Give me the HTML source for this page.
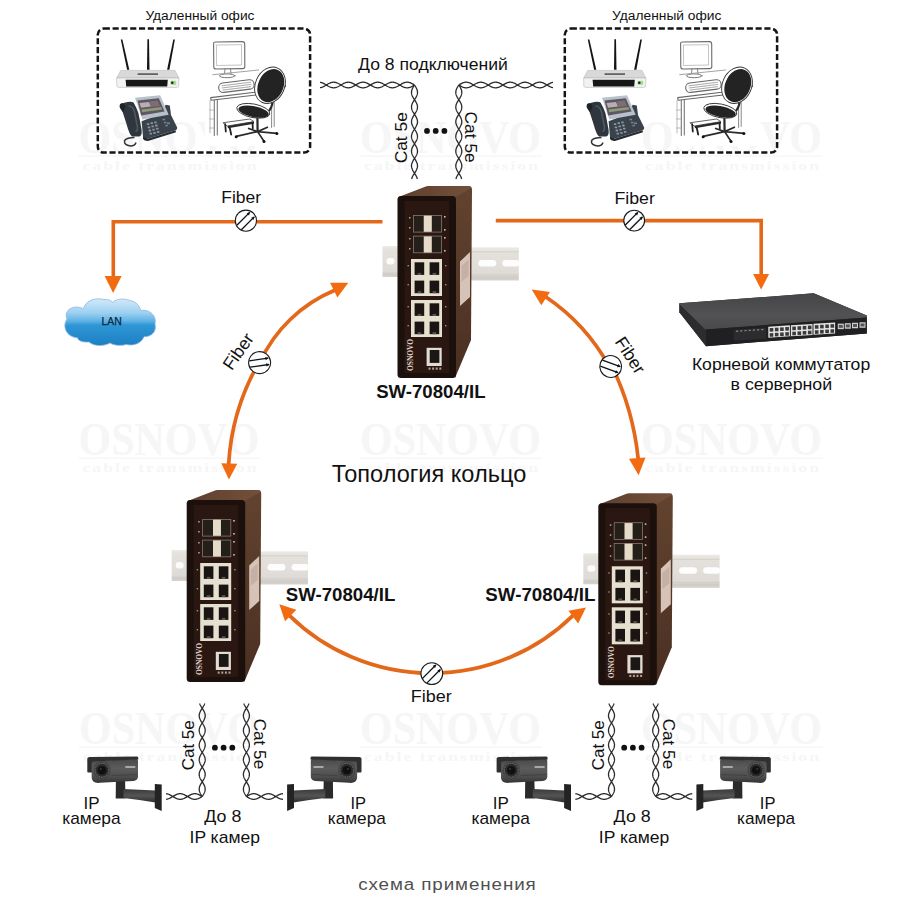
<!DOCTYPE html><html><head><meta charset="utf-8"><style>html,body{margin:0;padding:0;background:#fff;width:900px;height:900px;overflow:hidden}svg{display:block}</style></head><body>
<svg width="900" height="900" viewBox="0 0 900 900" font-family="Liberation Sans, sans-serif">
<rect width="900" height="900" fill="#fff"/>
<g fill="#f6f6f6"><text x="78.5" y="152.5" font-family="Liberation Serif" font-weight="bold" font-size="47" textLength="181" lengthAdjust="spacingAndGlyphs">OSNOVO</text>
<rect x="78.5" y="155.5" width="182" height="1.3" fill="#f6f6f6"/>
<text x="82.5" y="170.0" font-family="Liberation Serif" font-weight="bold" font-size="13.5" textLength="176" lengthAdjust="spacingAndGlyphs" letter-spacing="1.5">cable transmission</text></g>
<g fill="#f6f6f6"><text x="360.0" y="152.5" font-family="Liberation Serif" font-weight="bold" font-size="47" textLength="181" lengthAdjust="spacingAndGlyphs">OSNOVO</text>
<rect x="360.0" y="155.5" width="182" height="1.3" fill="#f6f6f6"/>
<text x="364.0" y="170.0" font-family="Liberation Serif" font-weight="bold" font-size="13.5" textLength="176" lengthAdjust="spacingAndGlyphs" letter-spacing="1.5">cable transmission</text></g>
<g fill="#f6f6f6"><text x="641.0" y="152.5" font-family="Liberation Serif" font-weight="bold" font-size="47" textLength="181" lengthAdjust="spacingAndGlyphs">OSNOVO</text>
<rect x="641.0" y="155.5" width="182" height="1.3" fill="#f6f6f6"/>
<text x="645.0" y="170.0" font-family="Liberation Serif" font-weight="bold" font-size="13.5" textLength="176" lengthAdjust="spacingAndGlyphs" letter-spacing="1.5">cable transmission</text></g>
<g fill="#f6f6f6"><text x="78.5" y="454.5" font-family="Liberation Serif" font-weight="bold" font-size="47" textLength="181" lengthAdjust="spacingAndGlyphs">OSNOVO</text>
<rect x="78.5" y="457.5" width="182" height="1.3" fill="#f6f6f6"/>
<text x="82.5" y="472.0" font-family="Liberation Serif" font-weight="bold" font-size="13.5" textLength="176" lengthAdjust="spacingAndGlyphs" letter-spacing="1.5">cable transmission</text></g>
<g fill="#f6f6f6"><text x="360.0" y="454.5" font-family="Liberation Serif" font-weight="bold" font-size="47" textLength="181" lengthAdjust="spacingAndGlyphs">OSNOVO</text>
<rect x="360.0" y="457.5" width="182" height="1.3" fill="#f6f6f6"/>
<text x="364.0" y="472.0" font-family="Liberation Serif" font-weight="bold" font-size="13.5" textLength="176" lengthAdjust="spacingAndGlyphs" letter-spacing="1.5">cable transmission</text></g>
<g fill="#f6f6f6"><text x="641.0" y="454.5" font-family="Liberation Serif" font-weight="bold" font-size="47" textLength="181" lengthAdjust="spacingAndGlyphs">OSNOVO</text>
<rect x="641.0" y="457.5" width="182" height="1.3" fill="#f6f6f6"/>
<text x="645.0" y="472.0" font-family="Liberation Serif" font-weight="bold" font-size="13.5" textLength="176" lengthAdjust="spacingAndGlyphs" letter-spacing="1.5">cable transmission</text></g>
<g fill="#f6f6f6"><text x="79.0" y="743.5" font-family="Liberation Serif" font-weight="bold" font-size="47" textLength="181" lengthAdjust="spacingAndGlyphs">OSNOVO</text>
<rect x="79.0" y="746.5" width="182" height="1.3" fill="#f6f6f6"/>
<text x="83.0" y="761.0" font-family="Liberation Serif" font-weight="bold" font-size="13.5" textLength="176" lengthAdjust="spacingAndGlyphs" letter-spacing="1.5">cable transmission</text></g>
<g fill="#f6f6f6"><text x="360.0" y="743.5" font-family="Liberation Serif" font-weight="bold" font-size="47" textLength="181" lengthAdjust="spacingAndGlyphs">OSNOVO</text>
<rect x="360.0" y="746.5" width="182" height="1.3" fill="#f6f6f6"/>
<text x="364.0" y="761.0" font-family="Liberation Serif" font-weight="bold" font-size="13.5" textLength="176" lengthAdjust="spacingAndGlyphs" letter-spacing="1.5">cable transmission</text></g>
<g fill="#f6f6f6"><text x="641.0" y="743.5" font-family="Liberation Serif" font-weight="bold" font-size="47" textLength="181" lengthAdjust="spacingAndGlyphs">OSNOVO</text>
<rect x="641.0" y="746.5" width="182" height="1.3" fill="#f6f6f6"/>
<text x="645.0" y="761.0" font-family="Liberation Serif" font-weight="bold" font-size="13.5" textLength="176" lengthAdjust="spacingAndGlyphs" letter-spacing="1.5">cable transmission</text></g>
<defs>
<linearGradient id="rail" x1="0" y1="0" x2="0" y2="1"><stop offset="0" stop-color="#ebe9e5"/><stop offset="0.15" stop-color="#e4e1dc"/><stop offset="0.5" stop-color="#e2dfda"/><stop offset="0.82" stop-color="#dedbd6"/><stop offset="0.9" stop-color="#cfccc7"/><stop offset="1" stop-color="#d5d3cf"/></linearGradient>
<linearGradient id="topf" x1="0" y1="0" x2="1" y2="0"><stop offset="0" stop-color="#5e3f2e"/><stop offset="1" stop-color="#72503b"/></linearGradient>
<linearGradient id="sidef" x1="0" y1="0" x2="0" y2="1"><stop offset="0" stop-color="#62432f"/><stop offset="1" stop-color="#4a2f22"/></linearGradient>
<radialGradient id="cloud" cx="0.45" cy="0.3" r="0.75"><stop offset="0" stop-color="#9fd8f5"/><stop offset="0.5" stop-color="#3fa3dc"/><stop offset="1" stop-color="#1b6fae"/></radialGradient>
<linearGradient id="camg" x1="0" y1="0" x2="0" y2="1"><stop offset="0" stop-color="#4a4a4a"/><stop offset="0.4" stop-color="#5c5c5c"/><stop offset="0.75" stop-color="#4d4d4d"/><stop offset="1" stop-color="#333"/></linearGradient>
<linearGradient id="rtop" x1="0" y1="0" x2="0" y2="1"><stop offset="0" stop-color="#454547"/><stop offset="0.6" stop-color="#525254"/><stop offset="1" stop-color="#49494b"/></linearGradient>
<g id="sw"><rect x="-15" y="50" width="20" height="31" fill="url(#rail)"/><rect x="-11" y="62" width="8" height="6.5" rx="3" fill="#fbfbfb"/><rect x="66" y="51.4" width="55.3" height="33.1" fill="url(#rail)"/><rect x="66" y="55.5" width="55.3" height="0.8" fill="#cfcac3"/><rect x="66" y="78.5" width="55.3" height="0.8" fill="#cfcac3"/><rect x="80.8" y="63.9" width="17.9" height="6.6" rx="3.3" fill="#fdfdfd"/><rect x="104.9" y="63.9" width="17" height="6.6" rx="3.3" fill="#fdfdfd"/><path d="M57,1 L71.5,-9 Q74.5,-10 74.5,-6 L73.5,144 L57.5,182 Z" fill="url(#sidef)"/><path d="M1,1 L27,-9 Q29,-10 31,-10 L71.5,-10 Q74.5,-10 73.5,-8 L58,1 Z" fill="url(#topf)"/><path d="M62.5,65.4 L72.5,56 L72.5,101 L62.5,110 Z" fill="#d6c2b6"/><path d="M64,70 L71,63.5 L71,80 L64,86 Z" fill="#c4b0a4"/><rect x="0" y="0" width="58.5" height="182" rx="3.5" fill="#1c100c"/><rect x="7" y="5" width="44.5" height="172" rx="1" fill="#2b1711"/><rect x="15.5" y="19.0" width="29" height="17.5" fill="#857970"/><rect x="16.3" y="19.8" width="10" height="15.9" fill="#242019"/><rect x="34.2" y="19.8" width="9.5" height="15.9" fill="#242019"/><rect x="26.3" y="19.8" width="7.9" height="15.9" fill="#e6dac8"/><rect x="15.5" y="39.7" width="29" height="17.5" fill="#857970"/><rect x="16.3" y="40.5" width="10" height="15.9" fill="#242019"/><rect x="34.2" y="40.5" width="9.5" height="15.9" fill="#242019"/><rect x="26.3" y="40.5" width="7.9" height="15.9" fill="#e6dac8"/><rect x="13.5" y="63" width="31" height="37" fill="#e6e0d0"/><rect x="17.1" y="66.3" width="9.6" height="12.6" fill="#1a1513"/><rect x="20.1" y="76.9" width="3.6" height="2" fill="#5a524c"/><rect x="32.1" y="66.3" width="9.6" height="12.6" fill="#1a1513"/><rect x="35.1" y="76.9" width="3.6" height="2" fill="#5a524c"/><rect x="17.1" y="84.6" width="9.6" height="12.6" fill="#1a1513"/><rect x="20.1" y="95.2" width="3.6" height="2" fill="#5a524c"/><rect x="32.1" y="84.6" width="9.6" height="12.6" fill="#1a1513"/><rect x="35.1" y="95.2" width="3.6" height="2" fill="#5a524c"/><rect x="13.5" y="104" width="31" height="37" fill="#e6e0d0"/><rect x="17.1" y="107.3" width="9.6" height="12.6" fill="#1a1513"/><rect x="20.1" y="117.9" width="3.6" height="2" fill="#5a524c"/><rect x="32.1" y="107.3" width="9.6" height="12.6" fill="#1a1513"/><rect x="35.1" y="117.9" width="3.6" height="2" fill="#5a524c"/><rect x="17.1" y="125.6" width="9.6" height="12.6" fill="#1a1513"/><rect x="20.1" y="136.2" width="3.6" height="2" fill="#5a524c"/><rect x="32.1" y="125.6" width="9.6" height="12.6" fill="#1a1513"/><rect x="35.1" y="136.2" width="3.6" height="2" fill="#5a524c"/><rect x="29.1" y="151.8" width="15.1" height="18.2" fill="#e2ddd4"/><rect x="32.2" y="154" width="9.7" height="12.9" fill="#1b1715"/><rect x="31.0" y="171.5" width="2" height="2.2" fill="#a9a19a"/><rect x="34.6" y="171.5" width="2" height="2.2" fill="#a9a19a"/><rect x="38.2" y="171.5" width="2" height="2.2" fill="#a9a19a"/><rect x="41.8" y="171.5" width="2" height="2.2" fill="#a9a19a"/><text transform="translate(15.3,175) rotate(-90)" font-family="Liberation Serif" font-weight="bold" font-size="8.2" fill="#e0d8d0" textLength="32" lengthAdjust="spacingAndGlyphs">OSNOVO</text><rect x="11.5" y="21" width="1.5" height="1.5" fill="#b0a8a0"/><rect x="11.5" y="31" width="1.5" height="1.5" fill="#b0a8a0"/><rect x="11.5" y="42" width="1.5" height="1.5" fill="#b0a8a0"/><rect x="11.5" y="52" width="1.5" height="1.5" fill="#b0a8a0"/><rect x="46.5" y="20" width="1.6" height="1.6" fill="#c8c0b8"/><rect x="46.5" y="33" width="1.6" height="1.6" fill="#c8c0b8"/><rect x="46.5" y="41" width="1.6" height="1.6" fill="#c8c0b8"/><rect x="46.5" y="54" width="1.6" height="1.6" fill="#c8c0b8"/><rect x="10" y="69" width="1.4" height="1.4" fill="#9a928a"/><rect x="47.5" y="69" width="1.4" height="1.4" fill="#9a928a"/><rect x="10" y="88" width="1.4" height="1.4" fill="#9a928a"/><rect x="47.5" y="88" width="1.4" height="1.4" fill="#9a928a"/><rect x="10" y="110" width="1.4" height="1.4" fill="#9a928a"/><rect x="47.5" y="110" width="1.4" height="1.4" fill="#9a928a"/><rect x="10" y="129" width="1.4" height="1.4" fill="#9a928a"/><rect x="47.5" y="129" width="1.4" height="1.4" fill="#9a928a"/></g>
<linearGradient id="camarm" x1="0" y1="0" x2="0" y2="1"><stop offset="0" stop-color="#3a3a3a"/><stop offset="0.5" stop-color="#545454"/><stop offset="1" stop-color="#2c2c2c"/></linearGradient>
<g id="cam"><path d="M28.4,24 L37.6,24 L38,41.5 L28.2,41.5 Z" fill="#2a2a2a"/><path d="M36,32.1 L68,33.5 L68,45.4 Q52,43 36,41.1 Z" fill="url(#camarm)"/><path d="M67.3,27 L74.2,27.5 L74.2,54.1 L67.3,51 Z" fill="#232323"/><path d="M4,4 L49,2 Q50.5,2 50.5,4 L50.5,20 Q50,23.5 46,24 L12,25.8 Q5,26.5 4.2,21 Z" fill="url(#camg)"/><path d="M-0.2,1.6 Q0,0 2,0 L49.6,-0.6 Q50.8,-0.5 50.8,1 L50.8,2.6 L5,4.4 Q4.4,4.6 4.4,6 L4.4,15.5 L0.6,15.5 Q-0.2,15.5 -0.2,14.5 Z" fill="#2f2f2f"/><circle cx="14.5" cy="13.2" r="8.6" fill="#434343"/><circle cx="14.5" cy="13.2" r="6.8" fill="#2c2c2c" stroke="#7a7a7a" stroke-width="1" stroke-dasharray="0.9 0.9"/><circle cx="14.5" cy="13.2" r="4.3" fill="#101010"/><circle cx="13.3" cy="12" r="1.1" fill="#383838"/><rect x="37.8" y="9" width="10" height="2" fill="#a8a8a8"/><path d="M24,18.5 L49.5,17.5" stroke="#3e3e3e" stroke-width="0.8"/></g>
</defs>
<g transform="translate(0.0,0)"><rect x="97.8" y="28.6" width="212.3" height="124" rx="6" fill="none" stroke="#151515" stroke-width="2.5" stroke-dasharray="6.1 2.7"/><path d="M120.8,39.5 L122.4,39.5 L129.3,69.8 L127.1,69.8 Z" fill="#141414"/><path d="M147.4,39.2 L149.0,39.2 L149.5,69.8 L147.0,69.8 Z" fill="#141414"/><path d="M173.3,39.5 L174.9,39.5 L169.4,69.8 L167.1,69.8 Z" fill="#141414"/><path d="M120.7,70.4 L174.9,70.4 L178.9,78 L116.7,78 Z" fill="#d9d9d9" stroke="#b0b0b0" stroke-width="0.5"/><path d="M116.7,78 L178.9,78 L178.6,86.6 Q178,87.4 176,87.4 L119,87.4 Q117,87.4 116.8,86 Z" fill="#f2f2f2" stroke="#b8b8b8" stroke-width="0.6"/><rect x="137.6" y="73.3" width="20.4" height="1.6" fill="#555"/><path d="M125.6,79.8 L167.8,79.8 L167.2,86.4 L126.2,86.4 Z" fill="#161616"/><rect x="170.4" y="80.7" width="5.8" height="4.3" rx="1" fill="#a6e08a"/><circle cx="172.3" cy="82.8" r="1.3" fill="#222"/><path d="M134.5,137.5 Q127,137.5 124.6,140.5 Q123.5,145 130.5,146 Q135,146 136,142.5" fill="none" stroke="#30363c" stroke-width="1.5"/><path d="M141.6,121.2 L163,113 L165.5,104.8 L169.8,105.5 L171,115 L177.2,127.6 Q177.6,129.6 175.5,130.3 L147.5,138.8 Q144.5,139.6 143,136.8 Z" fill="#3a434c"/><path d="M143,136.8 L147.5,138.8 L175.5,130.3 L176,132.3 L148,141 Q144.5,141.2 143,139 Z" fill="#262b30"/><rect x="146.8" y="123.2" width="2.5" height="1.8" rx="0.5" fill="#8a96a2"/><rect x="150.5" y="122.3" width="2.5" height="1.8" rx="0.5" fill="#8a96a2"/><rect x="154.2" y="121.4" width="2.5" height="1.8" rx="0.5" fill="#8a96a2"/><rect x="147.7" y="126.4" width="2.5" height="1.8" rx="0.5" fill="#8a96a2"/><rect x="151.4" y="125.5" width="2.5" height="1.8" rx="0.5" fill="#8a96a2"/><rect x="155.1" y="124.6" width="2.5" height="1.8" rx="0.5" fill="#8a96a2"/><rect x="148.6" y="129.6" width="2.5" height="1.8" rx="0.5" fill="#8a96a2"/><rect x="152.3" y="128.7" width="2.5" height="1.8" rx="0.5" fill="#8a96a2"/><rect x="156.0" y="127.8" width="2.5" height="1.8" rx="0.5" fill="#8a96a2"/><rect x="149.5" y="132.8" width="2.5" height="1.8" rx="0.5" fill="#8a96a2"/><rect x="153.2" y="131.9" width="2.5" height="1.8" rx="0.5" fill="#8a96a2"/><rect x="156.9" y="131.0" width="2.5" height="1.8" rx="0.5" fill="#8a96a2"/><rect x="162.5" y="118.8" width="2.6" height="1.5" fill="#77838f"/><rect x="163.9" y="121.8" width="2.6" height="1.5" fill="#77838f"/><rect x="165.3" y="124.8" width="2.6" height="1.5" fill="#77838f"/><rect x="167" y="122.5" width="3" height="1.6" fill="#77838f"/><path d="M135,97.8 L160.1,95.3 L168.7,114.7 L142.4,119.6 Z" fill="#b6c1cb"/><path d="M137.6,100.4 L158.8,98.3 L164.6,111.6 L141.2,115.4 Z" fill="#5e5660"/><path d="M139.5,103 L149,102 L151,106.5 L141,107.8 Z" fill="#b9aeb4"/><path d="M149.5,101.5 L157.6,100.6 L160,106 L151.5,107 Z" fill="#7f6d74"/><path d="M141.4,109.6 L161.2,107 L162.2,109.4 L142.2,112.2 Z" fill="#8d9a78"/><path d="M121.2,103.6 Q119.2,104.3 119.8,107.5 L122.8,112.5 L126.5,124 Q129.5,135 132,136.5 L139,136.6 Q142.2,135.8 141.6,130 L139.6,119 Q138.6,112 136.2,107.4 L133.5,102.6 Q131.8,101.4 127.5,102 Z" fill="#2f363d"/><path d="M128.5,106 Q133,106 134.5,112 L137.5,127 Q137.6,131 135.5,131.5" fill="none" stroke="#4d5862" stroke-width="1.6"/><path d="M121.2,103.6 Q119.4,104.3 120,107.8 L123.5,112 L125.5,106.5 Q125,103.4 121.2,103.6 Z" fill="#1e2327"/></g>
<g transform="translate(467.0,0)"><rect x="97.8" y="28.6" width="212.3" height="124" rx="6" fill="none" stroke="#151515" stroke-width="2.5" stroke-dasharray="6.1 2.7"/><path d="M120.8,39.5 L122.4,39.5 L129.3,69.8 L127.1,69.8 Z" fill="#141414"/><path d="M147.4,39.2 L149.0,39.2 L149.5,69.8 L147.0,69.8 Z" fill="#141414"/><path d="M173.3,39.5 L174.9,39.5 L169.4,69.8 L167.1,69.8 Z" fill="#141414"/><path d="M120.7,70.4 L174.9,70.4 L178.9,78 L116.7,78 Z" fill="#d9d9d9" stroke="#b0b0b0" stroke-width="0.5"/><path d="M116.7,78 L178.9,78 L178.6,86.6 Q178,87.4 176,87.4 L119,87.4 Q117,87.4 116.8,86 Z" fill="#f2f2f2" stroke="#b8b8b8" stroke-width="0.6"/><rect x="137.6" y="73.3" width="20.4" height="1.6" fill="#555"/><path d="M125.6,79.8 L167.8,79.8 L167.2,86.4 L126.2,86.4 Z" fill="#161616"/><rect x="170.4" y="80.7" width="5.8" height="4.3" rx="1" fill="#a6e08a"/><circle cx="172.3" cy="82.8" r="1.3" fill="#222"/><path d="M134.5,137.5 Q127,137.5 124.6,140.5 Q123.5,145 130.5,146 Q135,146 136,142.5" fill="none" stroke="#30363c" stroke-width="1.5"/><path d="M141.6,121.2 L163,113 L165.5,104.8 L169.8,105.5 L171,115 L177.2,127.6 Q177.6,129.6 175.5,130.3 L147.5,138.8 Q144.5,139.6 143,136.8 Z" fill="#3a434c"/><path d="M143,136.8 L147.5,138.8 L175.5,130.3 L176,132.3 L148,141 Q144.5,141.2 143,139 Z" fill="#262b30"/><rect x="146.8" y="123.2" width="2.5" height="1.8" rx="0.5" fill="#8a96a2"/><rect x="150.5" y="122.3" width="2.5" height="1.8" rx="0.5" fill="#8a96a2"/><rect x="154.2" y="121.4" width="2.5" height="1.8" rx="0.5" fill="#8a96a2"/><rect x="147.7" y="126.4" width="2.5" height="1.8" rx="0.5" fill="#8a96a2"/><rect x="151.4" y="125.5" width="2.5" height="1.8" rx="0.5" fill="#8a96a2"/><rect x="155.1" y="124.6" width="2.5" height="1.8" rx="0.5" fill="#8a96a2"/><rect x="148.6" y="129.6" width="2.5" height="1.8" rx="0.5" fill="#8a96a2"/><rect x="152.3" y="128.7" width="2.5" height="1.8" rx="0.5" fill="#8a96a2"/><rect x="156.0" y="127.8" width="2.5" height="1.8" rx="0.5" fill="#8a96a2"/><rect x="149.5" y="132.8" width="2.5" height="1.8" rx="0.5" fill="#8a96a2"/><rect x="153.2" y="131.9" width="2.5" height="1.8" rx="0.5" fill="#8a96a2"/><rect x="156.9" y="131.0" width="2.5" height="1.8" rx="0.5" fill="#8a96a2"/><rect x="162.5" y="118.8" width="2.6" height="1.5" fill="#77838f"/><rect x="163.9" y="121.8" width="2.6" height="1.5" fill="#77838f"/><rect x="165.3" y="124.8" width="2.6" height="1.5" fill="#77838f"/><rect x="167" y="122.5" width="3" height="1.6" fill="#77838f"/><path d="M135,97.8 L160.1,95.3 L168.7,114.7 L142.4,119.6 Z" fill="#b6c1cb"/><path d="M137.6,100.4 L158.8,98.3 L164.6,111.6 L141.2,115.4 Z" fill="#5e5660"/><path d="M139.5,103 L149,102 L151,106.5 L141,107.8 Z" fill="#b9aeb4"/><path d="M149.5,101.5 L157.6,100.6 L160,106 L151.5,107 Z" fill="#7f6d74"/><path d="M141.4,109.6 L161.2,107 L162.2,109.4 L142.2,112.2 Z" fill="#8d9a78"/><path d="M121.2,103.6 Q119.2,104.3 119.8,107.5 L122.8,112.5 L126.5,124 Q129.5,135 132,136.5 L139,136.6 Q142.2,135.8 141.6,130 L139.6,119 Q138.6,112 136.2,107.4 L133.5,102.6 Q131.8,101.4 127.5,102 Z" fill="#2f363d"/><path d="M128.5,106 Q133,106 134.5,112 L137.5,127 Q137.6,131 135.5,131.5" fill="none" stroke="#4d5862" stroke-width="1.6"/><path d="M121.2,103.6 Q119.4,104.3 120,107.8 L123.5,112 L125.5,106.5 Q125,103.4 121.2,103.6 Z" fill="#1e2327"/></g>
<rect x="205" y="36" width="88" height="110" fill="#fff"/><rect x="672" y="36" width="88" height="110" fill="#fff"/>
<g transform="translate(0.0,0)" fill="none" stroke="#6a6a6a" stroke-width="1" stroke-linejoin="round" stroke-linecap="round"><path d="M213.6,43.5 Q213.5,42 215.5,42 L242.5,41.6 Q244.6,41.6 244.7,44 L244.8,66.5 Q244.8,68.6 242.6,68.6 L216,69 Q213.8,69 213.8,67 Z" fill="#fff" stroke="#6a6a6a" stroke-width="1.1"/><path d="M216.8,45 L241.5,44.7 L241.6,65 L217,65.5 Z" stroke="#aaa" stroke-width="0.7"/><path d="M225,69 L224.5,73.5 M230.5,69 L231,73.5" stroke="#777" stroke-width="0.9"/><ellipse cx="227.2" cy="75.8" rx="7.8" ry="1.9" fill="#fff" stroke="#777"/><path d="M212.7,74.7 L258.7,70" stroke="#999" stroke-width="0.9"/><g transform="rotate(-7 236.4 86)"><rect x="218.6" y="81.4" width="35.6" height="9.4" rx="4.5" fill="#fff" stroke="#666" stroke-width="1.1"/><path d="M222,84 L251,84 M222,86.2 L251,86.2 M222.5,88.4 L250.5,88.4" stroke="#9a9a9a" stroke-width="0.8" stroke-dasharray="1.1 0.6"/></g><path d="M210.7,97.6 L254.7,92.2 L285,84 L285.6,86.4 L256,95 L211,100.3 Z" fill="#fff" stroke="#666" stroke-width="1.1"/><path d="M214.3,100.4 L214.3,135.5 M217.3,100.2 L217.3,135" stroke="#777" stroke-width="1.1"/><path d="M209.5,110 L214,110 M209.5,119 L214,119 M209.5,128 L214,128 M210,100.5 L210,133" stroke="#aaa" stroke-width="0.8"/><path d="M271.6,96 L271.6,127.5 M274.2,95.2 L274.2,126.5" stroke="#888" stroke-width="1"/><path d="M223.3,122.7 L249.8,119 L254,121.6 L227.6,126 Z" fill="#fff" stroke="#666" stroke-width="1"/><path d="M227.6,126 L254,121.6 L254,123.8 L228,128.3 Z" fill="#2a2a2a" stroke="none"/><path d="M225.2,124.2 L225.8,131.5 M229.8,128 L231.2,134.5 M252.6,123.5 L252.8,128.5" stroke="#222" stroke-width="1.8"/></g><g transform="translate(0.0,0)"><path d="M257.6,131.6 L236.3,136.4 M257.6,131.6 L264,141.3 M257.6,131.6 L276.8,133.3 M257.6,131.6 L268,127 M257.6,131.6 L248,128.2" stroke="#2a2a2a" stroke-width="1.7" fill="none"/><circle cx="236.2" cy="136.8" r="1.5" fill="#111"/><circle cx="264" cy="141.6" r="1.5" fill="#111"/><circle cx="276.9" cy="133.6" r="1.5" fill="#111"/><path d="M257.4,117 L257.6,131.8" stroke="#2a2a2a" stroke-width="2.2"/><path d="M266.5,113.5 Q272.5,108.5 272.8,100" stroke="#2a2a2a" stroke-width="2.2" fill="none"/><ellipse cx="270" cy="85.3" rx="14.6" ry="18.8" transform="rotate(24 270 85.3)" fill="#fff" stroke="#333" stroke-width="0.9"/><ellipse cx="270.8" cy="85.6" rx="12.6" ry="17.2" transform="rotate(24 270.8 85.6)" fill="#232323"/><ellipse cx="253.3" cy="110.8" rx="16.8" ry="6.8" transform="rotate(11 253.3 110.8)" fill="#fff" stroke="#333" stroke-width="0.9"/><ellipse cx="253.6" cy="111.6" rx="15.4" ry="5.4" transform="rotate(11 253.6 111.6)" fill="#232323"/></g>
<g transform="translate(467.0,0)" fill="none" stroke="#6a6a6a" stroke-width="1" stroke-linejoin="round" stroke-linecap="round"><path d="M213.6,43.5 Q213.5,42 215.5,42 L242.5,41.6 Q244.6,41.6 244.7,44 L244.8,66.5 Q244.8,68.6 242.6,68.6 L216,69 Q213.8,69 213.8,67 Z" fill="#fff" stroke="#6a6a6a" stroke-width="1.1"/><path d="M216.8,45 L241.5,44.7 L241.6,65 L217,65.5 Z" stroke="#aaa" stroke-width="0.7"/><path d="M225,69 L224.5,73.5 M230.5,69 L231,73.5" stroke="#777" stroke-width="0.9"/><ellipse cx="227.2" cy="75.8" rx="7.8" ry="1.9" fill="#fff" stroke="#777"/><path d="M212.7,74.7 L258.7,70" stroke="#999" stroke-width="0.9"/><g transform="rotate(-7 236.4 86)"><rect x="218.6" y="81.4" width="35.6" height="9.4" rx="4.5" fill="#fff" stroke="#666" stroke-width="1.1"/><path d="M222,84 L251,84 M222,86.2 L251,86.2 M222.5,88.4 L250.5,88.4" stroke="#9a9a9a" stroke-width="0.8" stroke-dasharray="1.1 0.6"/></g><path d="M210.7,97.6 L254.7,92.2 L285,84 L285.6,86.4 L256,95 L211,100.3 Z" fill="#fff" stroke="#666" stroke-width="1.1"/><path d="M214.3,100.4 L214.3,135.5 M217.3,100.2 L217.3,135" stroke="#777" stroke-width="1.1"/><path d="M209.5,110 L214,110 M209.5,119 L214,119 M209.5,128 L214,128 M210,100.5 L210,133" stroke="#aaa" stroke-width="0.8"/><path d="M271.6,96 L271.6,127.5 M274.2,95.2 L274.2,126.5" stroke="#888" stroke-width="1"/><path d="M223.3,122.7 L249.8,119 L254,121.6 L227.6,126 Z" fill="#fff" stroke="#666" stroke-width="1"/><path d="M227.6,126 L254,121.6 L254,123.8 L228,128.3 Z" fill="#2a2a2a" stroke="none"/><path d="M225.2,124.2 L225.8,131.5 M229.8,128 L231.2,134.5 M252.6,123.5 L252.8,128.5" stroke="#222" stroke-width="1.8"/></g><g transform="translate(467.0,0)"><path d="M257.6,131.6 L236.3,136.4 M257.6,131.6 L264,141.3 M257.6,131.6 L276.8,133.3 M257.6,131.6 L268,127 M257.6,131.6 L248,128.2" stroke="#2a2a2a" stroke-width="1.7" fill="none"/><circle cx="236.2" cy="136.8" r="1.5" fill="#111"/><circle cx="264" cy="141.6" r="1.5" fill="#111"/><circle cx="276.9" cy="133.6" r="1.5" fill="#111"/><path d="M257.4,117 L257.6,131.8" stroke="#2a2a2a" stroke-width="2.2"/><path d="M266.5,113.5 Q272.5,108.5 272.8,100" stroke="#2a2a2a" stroke-width="2.2" fill="none"/><ellipse cx="270" cy="85.3" rx="14.6" ry="18.8" transform="rotate(24 270 85.3)" fill="#fff" stroke="#333" stroke-width="0.9"/><ellipse cx="270.8" cy="85.6" rx="12.6" ry="17.2" transform="rotate(24 270.8 85.6)" fill="#232323"/><ellipse cx="253.3" cy="110.8" rx="16.8" ry="6.8" transform="rotate(11 253.3 110.8)" fill="#fff" stroke="#333" stroke-width="0.9"/><ellipse cx="253.6" cy="111.6" rx="15.4" ry="5.4" transform="rotate(11 253.6 111.6)" fill="#232323"/></g>
<text transform="translate(145.39,19.70) scale(1.0041,1)" font-size="13.70" font-weight="normal" fill="#111" >Удаленный офис</text>
<text transform="translate(612.09,19.70) scale(1.0060,1)" font-size="13.70" font-weight="normal" fill="#111" >Удаленный офис</text>
<text transform="translate(358.11,70.40) scale(1.0461,1)" font-size="16.80" font-weight="normal" fill="#111" >До 8 подключений</text>
<path d="M320.00,87.73 L320.49,87.65 L320.99,87.54 L321.48,87.40 L321.98,87.23 L322.47,87.04 L322.97,86.83 L323.46,86.60 L323.96,86.34 L324.45,86.08 L324.95,85.80 L325.44,85.51 L325.94,85.22 L326.43,84.92 L326.93,84.63 L327.42,84.34 L327.92,84.05 L328.41,83.78 L328.91,83.52 L329.40,83.28 L329.90,83.05 L330.39,82.85 L330.88,82.67 L331.38,82.52 L331.87,82.40 L332.37,82.30 L332.86,82.24 L333.36,82.21 L333.85,82.20 L334.35,82.23 L334.84,82.29 L335.34,82.38 L335.83,82.50 L336.33,82.65 L336.82,82.82 L337.32,83.02 L337.81,83.24 L338.31,83.48 L338.80,83.73 L339.30,84.00 L339.79,84.28 L340.29,84.57 L340.78,84.87 L341.27,85.16 L341.77,85.46 L342.26,85.75 L342.76,86.03 L343.25,86.30 L343.75,86.55 L344.24,86.79 L344.74,87.01 L345.23,87.20 L345.73,87.37 L346.22,87.52 L346.72,87.63 L347.21,87.72 L347.71,87.77 L348.20,87.80 L348.70,87.79 L349.19,87.75 L349.69,87.69 L350.18,87.59 L350.68,87.46 L351.17,87.31 L351.66,87.13 L352.16,86.92 L352.65,86.70 L353.15,86.45 L353.64,86.19 L354.14,85.92 L354.63,85.63 L355.13,85.34 L355.62,85.05 L356.12,84.75 L356.61,84.46 L357.11,84.17 L357.60,83.89 L358.10,83.63 L358.59,83.38 L359.09,83.15 L359.58,82.93 L360.08,82.75 L360.57,82.58 L361.07,82.45 L361.56,82.34 L362.05,82.26 L362.55,82.22 L363.04,82.20 L363.54,82.22 L364.03,82.26 L364.53,82.34 L365.02,82.45 L365.52,82.58 L366.01,82.74 L366.51,82.93 L367.00,83.14 L367.50,83.37 L367.99,83.62 L368.49,83.89 L368.98,84.16 L369.48,84.45 L369.97,84.74 L370.47,85.04 L370.96,85.33 L371.46,85.63 L371.95,85.91 L372.45,86.19 L372.94,86.45 L373.43,86.69 L373.93,86.92 L374.42,87.12 L374.92,87.30 L375.41,87.46 L375.91,87.59 L376.40,87.68 L376.90,87.75 L377.39,87.79 L377.89,87.80 L378.38,87.77 L378.88,87.72 L379.37,87.63 L379.87,87.52 L380.36,87.38 L380.86,87.21 L381.35,87.01 L381.85,86.79 L382.34,86.56 L382.84,86.30 L383.33,86.03 L383.82,85.75 L384.32,85.46 L384.81,85.17 L385.31,84.88 L385.80,84.58 L386.30,84.29 L386.79,84.01 L387.29,83.74 L387.78,83.48 L388.28,83.24 L388.77,83.02 L389.27,82.82 L389.76,82.65 L390.26,82.50 L390.75,82.38 L391.25,82.29 L391.74,82.23 L392.24,82.20 L392.73,82.21 L393.23,82.24 L393.72,82.30 L394.21,82.40 L394.71,82.52 L395.20,82.67 L395.70,82.85 L396.19,83.05 L396.69,83.27 L397.18,83.51 L397.68,83.77 L398.17,84.05 L398.67,84.33 L399.16,84.62 L399.66,84.91 L400.15,85.21 L400.65,85.50 L401.14,85.79 L401.64,86.07 L402.13,86.34 L402.63,86.59 L403.12,86.82 L403.62,87.04 L404.11,87.23 L404.60,87.40 L405.10,87.54 L405.59,87.65 L406.09,87.73 L406.58,87.78 L407.08,87.80 L407.57,87.79 L408.07,87.75 L408.56,87.67 L409.06,87.57 L409.55,87.44 L410.05,87.28 L410.54,87.10 L411.04,86.89 L411.53,86.66 L412.03,86.41 L412.52,86.15 L413.02,85.87 L413.51,85.59 L414.01,85.30 L414.50,85.00 M320.00,82.27 L320.49,82.35 L320.99,82.46 L321.48,82.60 L321.98,82.77 L322.47,82.96 L322.97,83.17 L323.46,83.40 L323.96,83.66 L324.45,83.92 L324.95,84.20 L325.44,84.49 L325.94,84.78 L326.43,85.08 L326.93,85.37 L327.42,85.66 L327.92,85.95 L328.41,86.22 L328.91,86.48 L329.40,86.72 L329.90,86.95 L330.39,87.15 L330.88,87.33 L331.38,87.48 L331.87,87.60 L332.37,87.70 L332.86,87.76 L333.36,87.79 L333.85,87.80 L334.35,87.77 L334.84,87.71 L335.34,87.62 L335.83,87.50 L336.33,87.35 L336.82,87.18 L337.32,86.98 L337.81,86.76 L338.31,86.52 L338.80,86.27 L339.30,86.00 L339.79,85.72 L340.29,85.43 L340.78,85.13 L341.27,84.84 L341.77,84.54 L342.26,84.25 L342.76,83.97 L343.25,83.70 L343.75,83.45 L344.24,83.21 L344.74,82.99 L345.23,82.80 L345.73,82.63 L346.22,82.48 L346.72,82.37 L347.21,82.28 L347.71,82.23 L348.20,82.20 L348.70,82.21 L349.19,82.25 L349.69,82.31 L350.18,82.41 L350.68,82.54 L351.17,82.69 L351.66,82.87 L352.16,83.08 L352.65,83.30 L353.15,83.55 L353.64,83.81 L354.14,84.08 L354.63,84.37 L355.13,84.66 L355.62,84.95 L356.12,85.25 L356.61,85.54 L357.11,85.83 L357.60,86.11 L358.10,86.37 L358.59,86.62 L359.09,86.85 L359.58,87.07 L360.08,87.25 L360.57,87.42 L361.07,87.55 L361.56,87.66 L362.05,87.74 L362.55,87.78 L363.04,87.80 L363.54,87.78 L364.03,87.74 L364.53,87.66 L365.02,87.55 L365.52,87.42 L366.01,87.26 L366.51,87.07 L367.00,86.86 L367.50,86.63 L367.99,86.38 L368.49,86.11 L368.98,85.84 L369.48,85.55 L369.97,85.26 L370.47,84.96 L370.96,84.67 L371.46,84.37 L371.95,84.09 L372.45,83.81 L372.94,83.55 L373.43,83.31 L373.93,83.08 L374.42,82.88 L374.92,82.70 L375.41,82.54 L375.91,82.41 L376.40,82.32 L376.90,82.25 L377.39,82.21 L377.89,82.20 L378.38,82.23 L378.88,82.28 L379.37,82.37 L379.87,82.48 L380.36,82.62 L380.86,82.79 L381.35,82.99 L381.85,83.21 L382.34,83.44 L382.84,83.70 L383.33,83.97 L383.82,84.25 L384.32,84.54 L384.81,84.83 L385.31,85.12 L385.80,85.42 L386.30,85.71 L386.79,85.99 L387.29,86.26 L387.78,86.52 L388.28,86.76 L388.77,86.98 L389.27,87.18 L389.76,87.35 L390.26,87.50 L390.75,87.62 L391.25,87.71 L391.74,87.77 L392.24,87.80 L392.73,87.79 L393.23,87.76 L393.72,87.70 L394.21,87.60 L394.71,87.48 L395.20,87.33 L395.70,87.15 L396.19,86.95 L396.69,86.73 L397.18,86.49 L397.68,86.23 L398.17,85.95 L398.67,85.67 L399.16,85.38 L399.66,85.09 L400.15,84.79 L400.65,84.50 L401.14,84.21 L401.64,83.93 L402.13,83.66 L402.63,83.41 L403.12,83.18 L403.62,82.96 L404.11,82.77 L404.60,82.60 L405.10,82.46 L405.59,82.35 L406.09,82.27 L406.58,82.22 L407.08,82.20 L407.57,82.21 L408.07,82.25 L408.56,82.33 L409.06,82.43 L409.55,82.56 L410.05,82.72 L410.54,82.90 L411.04,83.11 L411.53,83.34 L412.03,83.59 L412.52,83.85 L413.02,84.13 L413.51,84.41 L414.01,84.70 L414.50,85.00" fill="none" stroke="#2b2b2b" stroke-width="1.3"/>
<path d="M414.50,85.00 L414.82,85.49 L415.13,85.99 L415.44,86.48 L415.73,86.98 L416.01,87.47 L416.28,87.97 L416.52,88.46 L416.75,88.96 L416.94,89.45 L417.11,89.95 L417.25,90.44 L417.36,90.94 L417.44,91.43 L417.49,91.93 L417.50,92.42 L417.48,92.92 L417.42,93.41 L417.34,93.91 L417.22,94.40 L417.07,94.89 L416.89,95.39 L416.68,95.88 L416.45,96.38 L416.20,96.87 L415.93,97.37 L415.65,97.86 L415.35,98.36 L415.04,98.85 L414.73,99.35 L414.41,99.84 L414.09,100.34 L413.78,100.83 L413.48,101.33 L413.19,101.82 L412.91,102.32 L412.65,102.81 L412.41,103.31 L412.20,103.80 L412.01,104.29 L411.84,104.79 L411.71,105.28 L411.61,105.78 L411.54,106.27 L411.51,106.77 L411.50,107.26 L411.53,107.76 L411.60,108.25 L411.70,108.75 L411.82,109.24 L411.98,109.74 L412.17,110.23 L412.38,110.73 L412.62,111.22 L412.87,111.72 L413.15,112.21 L413.44,112.71 L413.74,113.20 L414.05,113.69 L414.37,114.19 L414.68,114.68 L415.00,115.18 L415.31,115.67 L415.61,116.17 L415.90,116.66 L416.17,117.16 L416.42,117.65 L416.65,118.15 L416.86,118.64 L417.04,119.14 L417.20,119.63 L417.32,120.13 L417.41,120.62 L417.47,121.12 L417.50,121.61 L417.49,122.11 L417.45,122.60 L417.38,123.09 L417.27,123.59 L417.13,124.08 L416.97,124.58 L416.77,125.07 L416.56,125.57 L416.31,126.06 L416.05,126.56 L415.77,127.05 L415.48,127.55 L415.17,128.04 L414.86,128.54 L414.54,129.03 L414.23,129.53 L413.91,130.02 L413.61,130.52 L413.31,131.01 L413.02,131.51 L412.76,132.00 L412.51,132.49 L412.28,132.99 L412.08,133.48 L411.91,133.98 L411.76,134.47 L411.65,134.97 L411.57,135.46 L411.52,135.96 L411.50,136.45 L411.52,136.95 L411.57,137.44 L411.65,137.94 L411.77,138.43 L411.91,138.93 L412.08,139.42 L412.29,139.92 L412.51,140.41 L412.76,140.91 L413.03,141.40 L413.31,141.89 L413.61,142.39 L413.92,142.88 L414.23,143.38 L414.55,143.87 L414.86,144.37 L415.18,144.86 L415.48,145.36 L415.77,145.85 L416.05,146.35 L416.32,146.84 L416.56,147.34 L416.78,147.83 L416.97,148.33 L417.14,148.82 L417.27,149.32 L417.38,149.81 L417.45,150.31 L417.49,150.80 L417.50,151.29 L417.47,151.79 L417.41,152.28 L417.32,152.78 L417.20,153.27 L417.04,153.77 L416.86,154.26 L416.65,154.76 L416.42,155.25 L416.16,155.75 L415.89,156.24 L415.60,156.74 L415.30,157.23 L414.99,157.73 L414.68,158.22 L414.36,158.72 L414.05,159.21 L413.74,159.71 L413.43,160.20 L413.14,160.69 L412.87,161.19 L412.61,161.68 L412.38,162.18 L412.17,162.67 L411.98,163.17 L411.82,163.66 L411.69,164.16 L411.60,164.65 L411.53,165.15 L411.50,165.64 L411.51,166.14 L411.54,166.63 L411.61,167.13 L411.71,167.62 L411.84,168.12 L412.01,168.61 L412.20,169.11 L412.41,169.60 L412.65,170.09 L412.91,170.59 L413.19,171.08 L413.48,171.58 L413.78,172.07 L414.10,172.57 L414.41,173.06 L414.73,173.56 L415.04,174.05 L415.35,174.55 L415.65,175.04 L415.94,175.54 L416.21,176.03 L416.46,176.53 L416.69,177.02 L416.89,177.52 L417.07,178.01 L417.22,178.51 L417.34,179.00 M414.50,85.00 L414.18,85.49 L413.87,85.99 L413.56,86.48 L413.27,86.98 L412.99,87.47 L412.72,87.97 L412.48,88.46 L412.25,88.96 L412.06,89.45 L411.89,89.95 L411.75,90.44 L411.64,90.94 L411.56,91.43 L411.51,91.93 L411.50,92.42 L411.52,92.92 L411.58,93.41 L411.66,93.91 L411.78,94.40 L411.93,94.89 L412.11,95.39 L412.32,95.88 L412.55,96.38 L412.80,96.87 L413.07,97.37 L413.35,97.86 L413.65,98.36 L413.96,98.85 L414.27,99.35 L414.59,99.84 L414.91,100.34 L415.22,100.83 L415.52,101.33 L415.81,101.82 L416.09,102.32 L416.35,102.81 L416.59,103.31 L416.80,103.80 L416.99,104.29 L417.16,104.79 L417.29,105.28 L417.39,105.78 L417.46,106.27 L417.49,106.77 L417.50,107.26 L417.47,107.76 L417.40,108.25 L417.30,108.75 L417.18,109.24 L417.02,109.74 L416.83,110.23 L416.62,110.73 L416.38,111.22 L416.13,111.72 L415.85,112.21 L415.56,112.71 L415.26,113.20 L414.95,113.69 L414.63,114.19 L414.32,114.68 L414.00,115.18 L413.69,115.67 L413.39,116.17 L413.10,116.66 L412.83,117.16 L412.58,117.65 L412.35,118.15 L412.14,118.64 L411.96,119.14 L411.80,119.63 L411.68,120.13 L411.59,120.62 L411.53,121.12 L411.50,121.61 L411.51,122.11 L411.55,122.60 L411.62,123.09 L411.73,123.59 L411.87,124.08 L412.03,124.58 L412.23,125.07 L412.44,125.57 L412.69,126.06 L412.95,126.56 L413.23,127.05 L413.52,127.55 L413.83,128.04 L414.14,128.54 L414.46,129.03 L414.77,129.53 L415.09,130.02 L415.39,130.52 L415.69,131.01 L415.98,131.51 L416.24,132.00 L416.49,132.49 L416.72,132.99 L416.92,133.48 L417.09,133.98 L417.24,134.47 L417.35,134.97 L417.43,135.46 L417.48,135.96 L417.50,136.45 L417.48,136.95 L417.43,137.44 L417.35,137.94 L417.23,138.43 L417.09,138.93 L416.92,139.42 L416.71,139.92 L416.49,140.41 L416.24,140.91 L415.97,141.40 L415.69,141.89 L415.39,142.39 L415.08,142.88 L414.77,143.38 L414.45,143.87 L414.14,144.37 L413.82,144.86 L413.52,145.36 L413.23,145.85 L412.95,146.35 L412.68,146.84 L412.44,147.34 L412.22,147.83 L412.03,148.33 L411.86,148.82 L411.73,149.32 L411.62,149.81 L411.55,150.31 L411.51,150.80 L411.50,151.29 L411.53,151.79 L411.59,152.28 L411.68,152.78 L411.80,153.27 L411.96,153.77 L412.14,154.26 L412.35,154.76 L412.58,155.25 L412.84,155.75 L413.11,156.24 L413.40,156.74 L413.70,157.23 L414.01,157.73 L414.32,158.22 L414.64,158.72 L414.95,159.21 L415.26,159.71 L415.57,160.20 L415.86,160.69 L416.13,161.19 L416.39,161.68 L416.62,162.18 L416.83,162.67 L417.02,163.17 L417.18,163.66 L417.31,164.16 L417.40,164.65 L417.47,165.15 L417.50,165.64 L417.49,166.14 L417.46,166.63 L417.39,167.13 L417.29,167.62 L417.16,168.12 L416.99,168.61 L416.80,169.11 L416.59,169.60 L416.35,170.09 L416.09,170.59 L415.81,171.08 L415.52,171.58 L415.22,172.07 L414.90,172.57 L414.59,173.06 L414.27,173.56 L413.96,174.05 L413.65,174.55 L413.35,175.04 L413.06,175.54 L412.79,176.03 L412.54,176.53 L412.31,177.02 L412.11,177.52 L411.93,178.01 L411.78,178.51 L411.66,179.00" fill="none" stroke="#2b2b2b" stroke-width="1.3"/>
<path d="M458.80,85.00 L459.30,85.30 L459.79,85.59 L460.29,85.88 L460.78,86.15 L461.28,86.41 L461.77,86.66 L462.27,86.89 L462.77,87.10 L463.26,87.28 L463.76,87.44 L464.25,87.57 L464.75,87.68 L465.25,87.75 L465.74,87.79 L466.24,87.80 L466.73,87.78 L467.23,87.73 L467.72,87.64 L468.22,87.53 L468.72,87.39 L469.21,87.22 L469.71,87.03 L470.20,86.81 L470.70,86.58 L471.19,86.32 L471.69,86.06 L472.19,85.78 L472.68,85.49 L473.18,85.19 L473.67,84.90 L474.17,84.60 L474.67,84.31 L475.16,84.03 L475.66,83.75 L476.15,83.50 L476.65,83.25 L477.14,83.03 L477.64,82.83 L478.14,82.66 L478.63,82.51 L479.13,82.39 L479.62,82.30 L480.12,82.23 L480.61,82.20 L481.11,82.20 L481.61,82.24 L482.10,82.30 L482.60,82.39 L483.09,82.52 L483.59,82.67 L484.09,82.84 L484.58,83.04 L485.08,83.27 L485.57,83.51 L486.07,83.77 L486.56,84.04 L487.06,84.32 L487.56,84.62 L488.05,84.91 L488.55,85.21 L489.04,85.50 L489.54,85.79 L490.03,86.07 L490.53,86.34 L491.03,86.59 L491.52,86.83 L492.02,87.04 L492.51,87.23 L493.01,87.40 L493.51,87.54 L494.00,87.65 L494.50,87.73 L494.99,87.78 L495.49,87.80 L495.98,87.79 L496.48,87.74 L496.98,87.67 L497.47,87.57 L497.97,87.43 L498.46,87.27 L498.96,87.09 L499.45,86.88 L499.95,86.65 L500.45,86.40 L500.94,86.14 L501.44,85.86 L501.93,85.57 L502.43,85.28 L502.93,84.98 L503.42,84.69 L503.92,84.40 L504.41,84.11 L504.91,83.83 L505.40,83.57 L505.90,83.33 L506.40,83.10 L506.89,82.89 L507.39,82.71 L507.88,82.55 L508.38,82.42 L508.87,82.32 L509.37,82.25 L509.87,82.21 L510.36,82.20 L510.86,82.22 L511.35,82.28 L511.85,82.36 L512.35,82.48 L512.84,82.62 L513.34,82.79 L513.83,82.98 L514.33,83.20 L514.82,83.43 L515.32,83.69 L515.82,83.96 L516.31,84.24 L516.81,84.53 L517.30,84.82 L517.80,85.12 L518.29,85.41 L518.79,85.70 L519.29,85.99 L519.78,86.26 L520.28,86.52 L520.77,86.76 L521.27,86.98 L521.77,87.18 L522.26,87.35 L522.76,87.50 L523.25,87.62 L523.75,87.71 L524.24,87.77 L524.74,87.80 L525.24,87.79 L525.73,87.76 L526.23,87.70 L526.72,87.60 L527.22,87.48 L527.71,87.33 L528.21,87.15 L528.71,86.95 L529.20,86.72 L529.70,86.48 L530.19,86.22 L530.69,85.94 L531.19,85.66 L531.68,85.37 L532.18,85.07 L532.67,84.78 L533.17,84.48 L533.66,84.20 L534.16,83.92 L534.66,83.65 L535.15,83.40 L535.65,83.16 L536.14,82.95 L536.64,82.76 L537.13,82.59 L537.63,82.46 L538.13,82.35 L538.62,82.27 L539.12,82.22 L539.61,82.20 L540.11,82.21 L540.61,82.26 L541.10,82.33 L541.60,82.44 L542.09,82.57 L542.59,82.73 L543.08,82.92 L543.58,83.13 L544.08,83.36 L544.57,83.61 L545.07,83.88 L545.56,84.15 L546.06,84.44 L546.55,84.73 L547.05,85.03 L547.55,85.33 L548.04,85.62 L548.54,85.90 L549.03,86.18 L549.53,86.44 L550.03,86.69 L550.52,86.91 L551.02,87.12 L551.51,87.30 L552.01,87.46 L552.50,87.58 L553.00,87.68 M458.80,85.00 L459.30,84.70 L459.79,84.41 L460.29,84.12 L460.78,83.85 L461.28,83.59 L461.77,83.34 L462.27,83.11 L462.77,82.90 L463.26,82.72 L463.76,82.56 L464.25,82.43 L464.75,82.32 L465.25,82.25 L465.74,82.21 L466.24,82.20 L466.73,82.22 L467.23,82.27 L467.72,82.36 L468.22,82.47 L468.72,82.61 L469.21,82.78 L469.71,82.97 L470.20,83.19 L470.70,83.42 L471.19,83.68 L471.69,83.94 L472.19,84.22 L472.68,84.51 L473.18,84.81 L473.67,85.10 L474.17,85.40 L474.67,85.69 L475.16,85.97 L475.66,86.25 L476.15,86.50 L476.65,86.75 L477.14,86.97 L477.64,87.17 L478.14,87.34 L478.63,87.49 L479.13,87.61 L479.62,87.70 L480.12,87.77 L480.61,87.80 L481.11,87.80 L481.61,87.76 L482.10,87.70 L482.60,87.61 L483.09,87.48 L483.59,87.33 L484.09,87.16 L484.58,86.96 L485.08,86.73 L485.57,86.49 L486.07,86.23 L486.56,85.96 L487.06,85.68 L487.56,85.38 L488.05,85.09 L488.55,84.79 L489.04,84.50 L489.54,84.21 L490.03,83.93 L490.53,83.66 L491.03,83.41 L491.52,83.17 L492.02,82.96 L492.51,82.77 L493.01,82.60 L493.51,82.46 L494.00,82.35 L494.50,82.27 L494.99,82.22 L495.49,82.20 L495.98,82.21 L496.48,82.26 L496.98,82.33 L497.47,82.43 L497.97,82.57 L498.46,82.73 L498.96,82.91 L499.45,83.12 L499.95,83.35 L500.45,83.60 L500.94,83.86 L501.44,84.14 L501.93,84.43 L502.43,84.72 L502.93,85.02 L503.42,85.31 L503.92,85.60 L504.41,85.89 L504.91,86.17 L505.40,86.43 L505.90,86.67 L506.40,86.90 L506.89,87.11 L507.39,87.29 L507.88,87.45 L508.38,87.58 L508.87,87.68 L509.37,87.75 L509.87,87.79 L510.36,87.80 L510.86,87.78 L511.35,87.72 L511.85,87.64 L512.35,87.52 L512.84,87.38 L513.34,87.21 L513.83,87.02 L514.33,86.80 L514.82,86.57 L515.32,86.31 L515.82,86.04 L516.31,85.76 L516.81,85.47 L517.30,85.18 L517.80,84.88 L518.29,84.59 L518.79,84.30 L519.29,84.01 L519.78,83.74 L520.28,83.48 L520.77,83.24 L521.27,83.02 L521.77,82.82 L522.26,82.65 L522.76,82.50 L523.25,82.38 L523.75,82.29 L524.24,82.23 L524.74,82.20 L525.24,82.21 L525.73,82.24 L526.23,82.30 L526.72,82.40 L527.22,82.52 L527.71,82.67 L528.21,82.85 L528.71,83.05 L529.20,83.28 L529.70,83.52 L530.19,83.78 L530.69,84.06 L531.19,84.34 L531.68,84.63 L532.18,84.93 L532.67,85.22 L533.17,85.52 L533.66,85.80 L534.16,86.08 L534.66,86.35 L535.15,86.60 L535.65,86.84 L536.14,87.05 L536.64,87.24 L537.13,87.41 L537.63,87.54 L538.13,87.65 L538.62,87.73 L539.12,87.78 L539.61,87.80 L540.11,87.79 L540.61,87.74 L541.10,87.67 L541.60,87.56 L542.09,87.43 L542.59,87.27 L543.08,87.08 L543.58,86.87 L544.08,86.64 L544.57,86.39 L545.07,86.12 L545.56,85.85 L546.06,85.56 L546.55,85.27 L547.05,84.97 L547.55,84.67 L548.04,84.38 L548.54,84.10 L549.03,83.82 L549.53,83.56 L550.03,83.31 L550.52,83.09 L551.02,82.88 L551.51,82.70 L552.01,82.54 L552.50,82.42 L553.00,82.32" fill="none" stroke="#2b2b2b" stroke-width="1.3"/>
<path d="M458.80,85.00 L459.12,85.49 L459.43,85.99 L459.74,86.48 L460.03,86.98 L460.31,87.47 L460.58,87.97 L460.82,88.46 L461.05,88.96 L461.24,89.45 L461.41,89.95 L461.55,90.44 L461.66,90.94 L461.74,91.43 L461.79,91.93 L461.80,92.42 L461.78,92.92 L461.72,93.41 L461.64,93.91 L461.52,94.40 L461.37,94.89 L461.19,95.39 L460.98,95.88 L460.75,96.38 L460.50,96.87 L460.23,97.37 L459.95,97.86 L459.65,98.36 L459.34,98.85 L459.03,99.35 L458.71,99.84 L458.39,100.34 L458.08,100.83 L457.78,101.33 L457.49,101.82 L457.21,102.32 L456.95,102.81 L456.71,103.31 L456.50,103.80 L456.31,104.29 L456.14,104.79 L456.01,105.28 L455.91,105.78 L455.84,106.27 L455.81,106.77 L455.80,107.26 L455.83,107.76 L455.90,108.25 L456.00,108.75 L456.12,109.24 L456.28,109.74 L456.47,110.23 L456.68,110.73 L456.92,111.22 L457.17,111.72 L457.45,112.21 L457.74,112.71 L458.04,113.20 L458.35,113.69 L458.67,114.19 L458.98,114.68 L459.30,115.18 L459.61,115.67 L459.91,116.17 L460.20,116.66 L460.47,117.16 L460.72,117.65 L460.95,118.15 L461.16,118.64 L461.34,119.14 L461.50,119.63 L461.62,120.13 L461.71,120.62 L461.77,121.12 L461.80,121.61 L461.79,122.11 L461.75,122.60 L461.68,123.09 L461.57,123.59 L461.43,124.08 L461.27,124.58 L461.07,125.07 L460.86,125.57 L460.61,126.06 L460.35,126.56 L460.07,127.05 L459.78,127.55 L459.47,128.04 L459.16,128.54 L458.84,129.03 L458.53,129.53 L458.21,130.02 L457.91,130.52 L457.61,131.01 L457.32,131.51 L457.06,132.00 L456.81,132.49 L456.58,132.99 L456.38,133.48 L456.21,133.98 L456.06,134.47 L455.95,134.97 L455.87,135.46 L455.82,135.96 L455.80,136.45 L455.82,136.95 L455.87,137.44 L455.95,137.94 L456.07,138.43 L456.21,138.93 L456.38,139.42 L456.59,139.92 L456.81,140.41 L457.06,140.91 L457.33,141.40 L457.61,141.89 L457.91,142.39 L458.22,142.88 L458.53,143.38 L458.85,143.87 L459.16,144.37 L459.48,144.86 L459.78,145.36 L460.07,145.85 L460.35,146.35 L460.62,146.84 L460.86,147.34 L461.08,147.83 L461.27,148.33 L461.44,148.82 L461.57,149.32 L461.68,149.81 L461.75,150.31 L461.79,150.80 L461.80,151.29 L461.77,151.79 L461.71,152.28 L461.62,152.78 L461.50,153.27 L461.34,153.77 L461.16,154.26 L460.95,154.76 L460.72,155.25 L460.46,155.75 L460.19,156.24 L459.90,156.74 L459.60,157.23 L459.29,157.73 L458.98,158.22 L458.66,158.72 L458.35,159.21 L458.04,159.71 L457.73,160.20 L457.44,160.69 L457.17,161.19 L456.91,161.68 L456.68,162.18 L456.47,162.67 L456.28,163.17 L456.12,163.66 L455.99,164.16 L455.90,164.65 L455.83,165.15 L455.80,165.64 L455.81,166.14 L455.84,166.63 L455.91,167.13 L456.01,167.62 L456.14,168.12 L456.31,168.61 L456.50,169.11 L456.71,169.60 L456.95,170.09 L457.21,170.59 L457.49,171.08 L457.78,171.58 L458.08,172.07 L458.40,172.57 L458.71,173.06 L459.03,173.56 L459.34,174.05 L459.65,174.55 L459.95,175.04 L460.24,175.54 L460.51,176.03 L460.76,176.53 L460.99,177.02 L461.19,177.52 L461.37,178.01 L461.52,178.51 L461.64,179.00 M458.80,85.00 L458.48,85.49 L458.17,85.99 L457.86,86.48 L457.57,86.98 L457.29,87.47 L457.02,87.97 L456.78,88.46 L456.55,88.96 L456.36,89.45 L456.19,89.95 L456.05,90.44 L455.94,90.94 L455.86,91.43 L455.81,91.93 L455.80,92.42 L455.82,92.92 L455.88,93.41 L455.96,93.91 L456.08,94.40 L456.23,94.89 L456.41,95.39 L456.62,95.88 L456.85,96.38 L457.10,96.87 L457.37,97.37 L457.65,97.86 L457.95,98.36 L458.26,98.85 L458.57,99.35 L458.89,99.84 L459.21,100.34 L459.52,100.83 L459.82,101.33 L460.11,101.82 L460.39,102.32 L460.65,102.81 L460.89,103.31 L461.10,103.80 L461.29,104.29 L461.46,104.79 L461.59,105.28 L461.69,105.78 L461.76,106.27 L461.79,106.77 L461.80,107.26 L461.77,107.76 L461.70,108.25 L461.60,108.75 L461.48,109.24 L461.32,109.74 L461.13,110.23 L460.92,110.73 L460.68,111.22 L460.43,111.72 L460.15,112.21 L459.86,112.71 L459.56,113.20 L459.25,113.69 L458.93,114.19 L458.62,114.68 L458.30,115.18 L457.99,115.67 L457.69,116.17 L457.40,116.66 L457.13,117.16 L456.88,117.65 L456.65,118.15 L456.44,118.64 L456.26,119.14 L456.10,119.63 L455.98,120.13 L455.89,120.62 L455.83,121.12 L455.80,121.61 L455.81,122.11 L455.85,122.60 L455.92,123.09 L456.03,123.59 L456.17,124.08 L456.33,124.58 L456.53,125.07 L456.74,125.57 L456.99,126.06 L457.25,126.56 L457.53,127.05 L457.82,127.55 L458.13,128.04 L458.44,128.54 L458.76,129.03 L459.07,129.53 L459.39,130.02 L459.69,130.52 L459.99,131.01 L460.28,131.51 L460.54,132.00 L460.79,132.49 L461.02,132.99 L461.22,133.48 L461.39,133.98 L461.54,134.47 L461.65,134.97 L461.73,135.46 L461.78,135.96 L461.80,136.45 L461.78,136.95 L461.73,137.44 L461.65,137.94 L461.53,138.43 L461.39,138.93 L461.22,139.42 L461.01,139.92 L460.79,140.41 L460.54,140.91 L460.27,141.40 L459.99,141.89 L459.69,142.39 L459.38,142.88 L459.07,143.38 L458.75,143.87 L458.44,144.37 L458.12,144.86 L457.82,145.36 L457.53,145.85 L457.25,146.35 L456.98,146.84 L456.74,147.34 L456.52,147.83 L456.33,148.33 L456.16,148.82 L456.03,149.32 L455.92,149.81 L455.85,150.31 L455.81,150.80 L455.80,151.29 L455.83,151.79 L455.89,152.28 L455.98,152.78 L456.10,153.27 L456.26,153.77 L456.44,154.26 L456.65,154.76 L456.88,155.25 L457.14,155.75 L457.41,156.24 L457.70,156.74 L458.00,157.23 L458.31,157.73 L458.62,158.22 L458.94,158.72 L459.25,159.21 L459.56,159.71 L459.87,160.20 L460.16,160.69 L460.43,161.19 L460.69,161.68 L460.92,162.18 L461.13,162.67 L461.32,163.17 L461.48,163.66 L461.61,164.16 L461.70,164.65 L461.77,165.15 L461.80,165.64 L461.79,166.14 L461.76,166.63 L461.69,167.13 L461.59,167.62 L461.46,168.12 L461.29,168.61 L461.10,169.11 L460.89,169.60 L460.65,170.09 L460.39,170.59 L460.11,171.08 L459.82,171.58 L459.52,172.07 L459.20,172.57 L458.89,173.06 L458.57,173.56 L458.26,174.05 L457.95,174.55 L457.65,175.04 L457.36,175.54 L457.09,176.03 L456.84,176.53 L456.61,177.02 L456.41,177.52 L456.23,178.01 L456.08,178.51 L455.96,179.00" fill="none" stroke="#2b2b2b" stroke-width="1.3"/>
<text transform="translate(406.90,163.37) rotate(-90) scale(1.0359,1)" font-size="16.80" fill="#111">Cat 5e</text>
<text transform="translate(464.60,111.53) rotate(90) scale(1.0002,1)" font-size="17.40" fill="#111">Cat 5e</text>
<circle cx="427.0" cy="130.9" r="2.9" fill="#111"/>
<circle cx="435.7" cy="130.9" r="2.9" fill="#111"/>
<circle cx="444.4" cy="130.9" r="2.9" fill="#111"/>
<path d="M382.5,221.7 L113.3,221.7 L113.3,277" fill="none" stroke="#e4681a" stroke-width="3.6" stroke-linejoin="miter"/>
<polygon points="113.10,293.00 104.60,276.00 121.60,276.00" fill="#f36b10"/>
<path d="M495.8,220.6 L761.2,220.6 L761.2,276" fill="none" stroke="#e4681a" stroke-width="3.6" stroke-linejoin="miter"/>
<polygon points="761.10,289.60 753.10,274.10 769.10,274.10" fill="#f36b10"/>
<g transform="translate(245.90,220.70) rotate(0.0)"><circle r="10.6" fill="#fbfdff" stroke="#1a1a1a" stroke-width="1.1"/><line x1="-9.05" y1="4.53" x2="3.82" y2="-8.35" stroke="#111" stroke-width="1.3"/><polygon points="4.25,-8.77 3.04,-5.31 0.78,-7.57" fill="#111"/><line x1="-4.53" y1="9.05" x2="8.35" y2="-3.82" stroke="#111" stroke-width="1.3"/><polygon points="8.77,-4.25 7.57,-0.78 5.31,-3.04" fill="#111"/></g>
<g transform="translate(634.20,220.60) rotate(0.0)"><circle r="10.4" fill="#fbfdff" stroke="#1a1a1a" stroke-width="1.1"/><line x1="-8.91" y1="4.38" x2="3.67" y2="-8.20" stroke="#111" stroke-width="1.3"/><polygon points="4.10,-8.62 2.90,-5.16 0.63,-7.42" fill="#111"/><line x1="-4.38" y1="8.91" x2="8.20" y2="-3.67" stroke="#111" stroke-width="1.3"/><polygon points="8.62,-4.10 7.42,-0.63 5.16,-2.90" fill="#111"/></g>
<text transform="translate(221.30,203.10) scale(1.0161,1)" font-size="17.20" font-weight="normal" fill="#111" >Fiber</text>
<text transform="translate(614.38,203.60) scale(1.0321,1)" font-size="17.20" font-weight="normal" fill="#111" >Fiber</text>
<path d="M259.84,362.36 A142.50,142.50 0 0 1 334.73,290.26" fill="none" stroke="#e4681a" stroke-width="3.7"/>
<path d="M259.22,362.04 A228.80,228.80 0 0 0 228.64,464.46" fill="none" stroke="#e4681a" stroke-width="3.7"/>
<polygon points="348.30,282.80 337.37,297.39 330.08,282.81" fill="#f36b10"/>
<polygon points="228.90,479.40 221.29,463.31 237.29,463.70" fill="#f36b10"/>
<path d="M545.61,296.80 A200.40,200.40 0 0 1 609.45,366.97" fill="none" stroke="#e4681a" stroke-width="3.7"/>
<path d="M611.73,365.80 A276.60,276.60 0 0 1 638.18,458.81" fill="none" stroke="#e4681a" stroke-width="3.7"/>
<polygon points="531.70,289.40 549.99,292.03 541.27,305.21" fill="#f36b10"/>
<polygon points="638.60,475.30 628.95,458.82 645.49,457.49" fill="#f36b10"/>
<path d="M289.28,615.33 A202.70,202.70 0 0 0 573.14,615.31" fill="none" stroke="#e4681a" stroke-width="3.7"/>
<polygon points="279.30,604.30 296.39,609.74 285.03,621.29" fill="#f36b10"/>
<polygon points="586.00,607.50 578.15,623.57 568.43,610.86" fill="#f36b10"/>
<g transform="translate(259.60,362.60) rotate(37.0)"><circle r="11.0" fill="#fbfdff" stroke="#1a1a1a" stroke-width="1.1"/><line x1="-9.35" y1="4.83" x2="4.12" y2="-8.64" stroke="#111" stroke-width="1.3"/><polygon points="4.54,-9.07 3.34,-5.60 1.08,-7.87" fill="#111"/><line x1="-4.83" y1="9.35" x2="8.64" y2="-4.12" stroke="#111" stroke-width="1.3"/><polygon points="9.07,-4.54 7.87,-1.08 5.60,-3.34" fill="#111"/></g>
<g transform="translate(610.70,366.50) rotate(65.0)"><circle r="10.9" fill="#fbfdff" stroke="#1a1a1a" stroke-width="1.1"/><line x1="-9.28" y1="4.75" x2="4.04" y2="-8.57" stroke="#111" stroke-width="1.3"/><polygon points="4.47,-8.99 3.27,-5.53 1.00,-7.79" fill="#111"/><line x1="-4.75" y1="9.28" x2="8.57" y2="-4.04" stroke="#111" stroke-width="1.3"/><polygon points="8.99,-4.47 7.79,-1.00 5.53,-3.27" fill="#111"/></g>
<g transform="translate(431.80,673.60) rotate(0.0)"><circle r="10.9" fill="#fbfdff" stroke="#1a1a1a" stroke-width="1.1"/><line x1="-9.28" y1="4.75" x2="4.04" y2="-8.57" stroke="#111" stroke-width="1.3"/><polygon points="4.47,-8.99 3.27,-5.53 1.00,-7.79" fill="#111"/><line x1="-4.75" y1="9.28" x2="8.57" y2="-4.04" stroke="#111" stroke-width="1.3"/><polygon points="8.99,-4.47 7.79,-1.00 5.53,-3.27" fill="#111"/></g>
<text transform="translate(238.2,351.3) rotate(-55)" font-size="17.6" text-anchor="middle" dy="6.1" fill="#111">Fiber</text>
<text transform="translate(630.2,355.2) rotate(57)" font-size="17.6" text-anchor="middle" dy="6.1" fill="#111">Fiber</text>
<text transform="translate(410.86,701.80) scale(1.0577,1)" font-size="17.00" font-weight="normal" fill="#111" >Fiber</text>
<use href="#sw" x="397.5" y="196"/>
<use href="#sw" x="186.7" y="500"/>
<use href="#sw" x="598.3" y="503.3"/>
<text transform="translate(376.14,397.50) scale(1.0186,1)" font-size="18.30" font-weight="bold" fill="#111" >SW-70804/IL</text>
<text transform="translate(285.84,601.30) scale(1.0205,1)" font-size="18.30" font-weight="bold" fill="#111" >SW-70804/IL</text>
<text transform="translate(485.34,601.30) scale(1.0242,1)" font-size="18.30" font-weight="bold" fill="#111" >SW-70804/IL</text>
<text transform="translate(331.73,482.30) scale(0.9812,1)" font-size="24.00" font-weight="normal" fill="#111" >Топология кольцо</text>
<path d="M679.4,303.3 L813.7,293.3 L866.8,315.5 L866.8,333.5 L706,346.2 L679.4,312.2 Z" fill="#2a2a2c"/><path d="M679.4,303.3 L813.7,293.3 L866.8,315.5 L866.8,317.5 L706,329.5 Z" fill="url(#rtop)"/><path d="M706,329.5 L866.8,317.5 L866.8,333.5 L706,346.2 Z" fill="#202022"/><path d="M679.4,303.3 L706,329.5 L706,346.2 L679.4,312.2 Z" fill="#2c2c2e"/><path d="M680,304 L705.5,329" stroke="#5e5e60" stroke-width="0.8"/><path d="M768.3,326.71 L789.9,325.33 L789.9,336.33 L768.3,337.71 Z" fill="#e4e4e4"/><rect x="769.7" y="328.04" width="3.6" height="3.6" fill="#3a3a3a"/><rect x="774.9" y="327.70" width="3.6" height="3.6" fill="#3a3a3a"/><rect x="780.1" y="327.37" width="3.6" height="3.6" fill="#3a3a3a"/><rect x="785.3" y="327.04" width="3.6" height="3.6" fill="#3a3a3a"/><rect x="769.7" y="333.14" width="3.6" height="3.6" fill="#3a3a3a"/><rect x="774.9" y="332.80" width="3.6" height="3.6" fill="#3a3a3a"/><rect x="780.1" y="332.47" width="3.6" height="3.6" fill="#3a3a3a"/><rect x="785.3" y="332.14" width="3.6" height="3.6" fill="#3a3a3a"/><path d="M790.9,325.27 L812.5,323.88 L812.5,334.88 L790.9,336.27 Z" fill="#e4e4e4"/><rect x="792.3" y="326.59" width="3.6" height="3.6" fill="#3a3a3a"/><rect x="797.5" y="326.26" width="3.6" height="3.6" fill="#3a3a3a"/><rect x="802.7" y="325.92" width="3.6" height="3.6" fill="#3a3a3a"/><rect x="807.9" y="325.59" width="3.6" height="3.6" fill="#3a3a3a"/><rect x="792.3" y="331.69" width="3.6" height="3.6" fill="#3a3a3a"/><rect x="797.5" y="331.36" width="3.6" height="3.6" fill="#3a3a3a"/><rect x="802.7" y="331.02" width="3.6" height="3.6" fill="#3a3a3a"/><rect x="807.9" y="330.69" width="3.6" height="3.6" fill="#3a3a3a"/><path d="M813.5,323.82 L835.1,322.44 L835.1,333.44 L813.5,334.82 Z" fill="#e4e4e4"/><rect x="814.9" y="325.14" width="3.6" height="3.6" fill="#3a3a3a"/><rect x="820.1" y="324.81" width="3.6" height="3.6" fill="#3a3a3a"/><rect x="825.3" y="324.48" width="3.6" height="3.6" fill="#3a3a3a"/><rect x="830.5" y="324.14" width="3.6" height="3.6" fill="#3a3a3a"/><rect x="814.9" y="330.24" width="3.6" height="3.6" fill="#3a3a3a"/><rect x="820.1" y="329.91" width="3.6" height="3.6" fill="#3a3a3a"/><rect x="825.3" y="329.58" width="3.6" height="3.6" fill="#3a3a3a"/><rect x="830.5" y="329.24" width="3.6" height="3.6" fill="#3a3a3a"/><rect x="837.8" y="323.66" width="6.0" height="5.5" fill="#cfcfcf"/><rect x="838.8" y="324.86" width="4.0" height="3" fill="#555"/><rect x="844.8" y="323.22" width="6.0" height="5.5" fill="#cfcfcf"/><rect x="845.8" y="324.42" width="4.0" height="3" fill="#555"/><rect x="852.0" y="322.76" width="6.0" height="5.5" fill="#cfcfcf"/><rect x="853.0" y="323.96" width="4.0" height="3" fill="#555"/><rect x="859.5" y="322.28" width="6.0" height="5.5" fill="#cfcfcf"/><rect x="860.5" y="323.48" width="4.0" height="3" fill="#555"/><path d="M734,329.71 L766,327.66 L766,338.66 L734,340.71 Z" fill="#2c2c2e"/><rect x="736.0" y="330.58" width="2.2" height="1.2" fill="#8a8a8a"/><rect x="740.2" y="330.31" width="2.2" height="1.2" fill="#8a8a8a"/><rect x="744.4" y="330.04" width="2.2" height="1.2" fill="#8a8a8a"/><rect x="748.6" y="329.77" width="2.2" height="1.2" fill="#8a8a8a"/><rect x="752.8" y="329.50" width="2.2" height="1.2" fill="#8a8a8a"/><rect x="757.0" y="329.24" width="2.2" height="1.2" fill="#8a8a8a"/><rect x="761.2" y="328.97" width="2.2" height="1.2" fill="#8a8a8a"/>
<text transform="translate(691.89,369.80) scale(1.0400,1)" font-size="16.90" font-weight="normal" fill="#111" >Корневой коммутатор</text>
<text transform="translate(730.56,389.70) scale(1.0519,1)" font-size="16.90" font-weight="normal" fill="#111" >в серверной</text>
<linearGradient id="cl2" x1="0" y1="0" x2="0" y2="1"><stop offset="0" stop-color="#d2eaf9"/><stop offset="0.3" stop-color="#9dd0f1"/><stop offset="0.48" stop-color="#5eb2e4"/><stop offset="0.56" stop-color="#2f97d6"/><stop offset="1" stop-color="#1c7fc2"/></linearGradient>
<path d="M77.5,337.8 C66,337 62,326 67,319 C63,310 74,304 83.3,308.7 C86,300 96,297.5 104,299.5 C108,299 111,300.5 112.5,302.3 C117,298.5 124,298.5 128,300 C135,301 140,305 140.5,310.4 C150,309 157,316 155,324 C157,332 151,337 144,336.7 C141,344 133,346 126,344.5 C121,346 114,345.5 110,343 C104,346.5 94,346.5 89,342 C83,342.5 78,341 77.5,337.8 Z" fill="url(#cl2)" stroke="#8fb6e2" stroke-width="0.8"/>
<text x="111.6" y="324.6" font-size="10.4" fill="#0a2540" text-anchor="middle" stroke="#0a2540" stroke-width="0.25">LAN</text>
<g transform="translate(0.0,0)"><path d="M204.77,703.50 L204.59,703.99 L204.38,704.49 L204.15,704.98 L203.90,705.48 L203.63,705.97 L203.34,706.47 L203.05,706.96 L202.74,707.46 L202.42,707.95 L202.11,708.45 L201.79,708.94 L201.48,709.44 L201.18,709.93 L200.88,710.43 L200.61,710.92 L200.35,711.41 L200.11,711.91 L199.89,712.40 L199.70,712.90 L199.54,713.39 L199.41,713.89 L199.31,714.38 L199.24,714.88 L199.21,715.37 L199.20,715.87 L199.23,716.36 L199.30,716.86 L199.40,717.35 L199.52,717.85 L199.68,718.34 L199.87,718.84 L200.08,719.33 L200.32,719.82 L200.57,720.32 L200.85,720.81 L201.14,721.31 L201.44,721.80 L201.75,722.30 L202.07,722.79 L202.38,723.29 L202.70,723.78 L203.01,724.28 L203.31,724.77 L203.60,725.27 L203.87,725.76 L204.12,726.26 L204.36,726.75 L204.56,727.24 L204.75,727.74 L204.90,728.23 L205.02,728.73 L205.11,729.22 L205.17,729.72 L205.20,730.21 L205.19,730.71 L205.15,731.20 L205.08,731.70 L204.97,732.19 L204.83,732.69 L204.67,733.18 L204.47,733.68 L204.25,734.17 L204.01,734.66 L203.75,735.16 L203.47,735.65 L203.18,736.15 L202.87,736.64 L202.56,737.14 L202.24,737.63 L201.93,738.13 L201.61,738.62 L201.31,739.12 L201.01,739.61 L200.72,740.11 L200.46,740.60 L200.21,741.10 L199.98,741.59 L199.78,742.09 L199.61,742.58 L199.46,743.07 L199.35,743.57 L199.27,744.06 L199.22,744.56 L199.20,745.05 L199.22,745.55 L199.27,746.04 L199.35,746.54 L199.47,747.03 L199.61,747.53 L199.78,748.02 L199.99,748.52 L200.21,749.01 L200.46,749.51 L200.73,750.00 L201.01,750.49 L201.31,750.99 L201.62,751.48 L201.93,751.98 L202.25,752.47 L202.56,752.97 L202.88,753.46 L203.18,753.96 L203.47,754.45 L203.75,754.95 L204.02,755.44 L204.26,755.94 L204.48,756.43 L204.67,756.93 L204.84,757.42 L204.97,757.91 L205.08,758.41 L205.15,758.90 L205.19,759.40 L205.20,759.89 L205.17,760.39 L205.11,760.88 L205.02,761.38 L204.90,761.87 L204.74,762.37 L204.56,762.86 L204.35,763.36 L204.12,763.85 L203.87,764.35 L203.59,764.84 L203.30,765.34 L203.00,765.83 L202.69,766.32 L202.38,766.82 L202.06,767.31 L201.75,767.81 L201.44,768.30 L201.14,768.80 L200.85,769.29 L200.57,769.79 L200.31,770.28 L200.08,770.78 L199.87,771.27 L199.68,771.77 L199.52,772.26 L199.39,772.76 L199.30,773.25 L199.23,773.74 L199.20,774.24 L199.21,774.73 L199.24,775.23 L199.31,775.72 L199.41,776.22 L199.54,776.71 L199.71,777.21 L199.90,777.70 L200.11,778.20 L200.35,778.69 L200.61,779.19 L200.89,779.68 L201.18,780.18 L201.48,780.67 L201.79,781.16 L202.11,781.66 L202.43,782.15 L202.74,782.65 L203.05,783.14 L203.35,783.64 L203.63,784.13 L203.90,784.63 L204.16,785.12 L204.38,785.62 L204.59,786.11 L204.77,786.61 L204.92,787.10 L205.04,787.60 L205.12,788.09 L205.18,788.59 L205.20,789.08 L205.19,789.57 L205.14,790.07 L205.06,790.56 L204.95,791.06 L204.81,791.55 L204.64,792.05 L204.45,792.54 L204.22,793.04 L203.98,793.53 L203.71,794.03 L203.43,794.52 L203.14,795.02 L202.83,795.51 L202.52,796.01 L202.20,796.50 M199.63,703.50 L199.81,703.99 L200.02,704.49 L200.25,704.98 L200.50,705.48 L200.77,705.97 L201.06,706.47 L201.35,706.96 L201.66,707.46 L201.98,707.95 L202.29,708.45 L202.61,708.94 L202.92,709.44 L203.22,709.93 L203.52,710.43 L203.79,710.92 L204.05,711.41 L204.29,711.91 L204.51,712.40 L204.70,712.90 L204.86,713.39 L204.99,713.89 L205.09,714.38 L205.16,714.88 L205.19,715.37 L205.20,715.87 L205.17,716.36 L205.10,716.86 L205.00,717.35 L204.88,717.85 L204.72,718.34 L204.53,718.84 L204.32,719.33 L204.08,719.82 L203.83,720.32 L203.55,720.81 L203.26,721.31 L202.96,721.80 L202.65,722.30 L202.33,722.79 L202.02,723.29 L201.70,723.78 L201.39,724.28 L201.09,724.77 L200.80,725.27 L200.53,725.76 L200.28,726.26 L200.04,726.75 L199.84,727.24 L199.65,727.74 L199.50,728.23 L199.38,728.73 L199.29,729.22 L199.23,729.72 L199.20,730.21 L199.21,730.71 L199.25,731.20 L199.32,731.70 L199.43,732.19 L199.57,732.69 L199.73,733.18 L199.93,733.68 L200.15,734.17 L200.39,734.66 L200.65,735.16 L200.93,735.65 L201.22,736.15 L201.53,736.64 L201.84,737.14 L202.16,737.63 L202.47,738.13 L202.79,738.62 L203.09,739.12 L203.39,739.61 L203.68,740.11 L203.94,740.60 L204.19,741.10 L204.42,741.59 L204.62,742.09 L204.79,742.58 L204.94,743.07 L205.05,743.57 L205.13,744.06 L205.18,744.56 L205.20,745.05 L205.18,745.55 L205.13,746.04 L205.05,746.54 L204.93,747.03 L204.79,747.53 L204.62,748.02 L204.41,748.52 L204.19,749.01 L203.94,749.51 L203.67,750.00 L203.39,750.49 L203.09,750.99 L202.78,751.48 L202.47,751.98 L202.15,752.47 L201.84,752.97 L201.52,753.46 L201.22,753.96 L200.93,754.45 L200.65,754.95 L200.38,755.44 L200.14,755.94 L199.92,756.43 L199.73,756.93 L199.56,757.42 L199.43,757.91 L199.32,758.41 L199.25,758.90 L199.21,759.40 L199.20,759.89 L199.23,760.39 L199.29,760.88 L199.38,761.38 L199.50,761.87 L199.66,762.37 L199.84,762.86 L200.05,763.36 L200.28,763.85 L200.53,764.35 L200.81,764.84 L201.10,765.34 L201.40,765.83 L201.71,766.32 L202.02,766.82 L202.34,767.31 L202.65,767.81 L202.96,768.30 L203.26,768.80 L203.55,769.29 L203.83,769.79 L204.09,770.28 L204.32,770.78 L204.53,771.27 L204.72,771.77 L204.88,772.26 L205.01,772.76 L205.10,773.25 L205.17,773.74 L205.20,774.24 L205.19,774.73 L205.16,775.23 L205.09,775.72 L204.99,776.22 L204.86,776.71 L204.69,777.21 L204.50,777.70 L204.29,778.20 L204.05,778.69 L203.79,779.19 L203.51,779.68 L203.22,780.18 L202.92,780.67 L202.61,781.16 L202.29,781.66 L201.97,782.15 L201.66,782.65 L201.35,783.14 L201.05,783.64 L200.77,784.13 L200.50,784.63 L200.24,785.12 L200.02,785.62 L199.81,786.11 L199.63,786.61 L199.48,787.10 L199.36,787.60 L199.28,788.09 L199.22,788.59 L199.20,789.08 L199.21,789.57 L199.26,790.07 L199.34,790.56 L199.45,791.06 L199.59,791.55 L199.76,792.05 L199.95,792.54 L200.18,793.04 L200.42,793.53 L200.69,794.03 L200.97,794.52 L201.26,795.02 L201.57,795.51 L201.88,796.01 L202.20,796.50" fill="none" stroke="#2b2b2b" stroke-width="1.3"/><path d="M166.00,799.28 L166.49,799.23 L166.98,799.15 L167.47,799.04 L167.96,798.91 L168.45,798.75 L168.94,798.56 L169.42,798.35 L169.91,798.12 L170.40,797.87 L170.89,797.61 L171.38,797.34 L171.87,797.05 L172.36,796.76 L172.85,796.47 L173.34,796.18 L173.83,795.89 L174.32,795.61 L174.81,795.34 L175.29,795.08 L175.78,794.83 L176.27,794.61 L176.76,794.40 L177.25,794.22 L177.74,794.06 L178.23,793.93 L178.72,793.83 L179.21,793.76 L179.70,793.71 L180.19,793.70 L180.68,793.72 L181.16,793.77 L181.65,793.84 L182.14,793.95 L182.63,794.08 L183.12,794.25 L183.61,794.43 L184.10,794.64 L184.59,794.87 L185.08,795.11 L185.57,795.38 L186.06,795.65 L186.55,795.93 L187.04,796.22 L187.52,796.51 L188.01,796.81 L188.50,797.10 L188.99,797.38 L189.48,797.65 L189.97,797.91 L190.46,798.16 L190.95,798.38 L191.44,798.59 L191.93,798.77 L192.42,798.93 L192.91,799.06 L193.39,799.17 L193.88,799.24 L194.37,799.29 L194.86,799.30 L195.35,799.28 L195.84,799.24 L196.33,799.16 L196.82,799.06 L197.31,798.92 L197.80,798.76 L198.29,798.58 L198.78,798.37 L199.26,798.14 L199.75,797.90 L200.24,797.64 L200.73,797.36 L201.22,797.08 L201.71,796.79 L202.20,796.50 M166.00,793.72 L166.49,793.77 L166.98,793.85 L167.47,793.96 L167.96,794.09 L168.45,794.25 L168.94,794.44 L169.42,794.65 L169.91,794.88 L170.40,795.13 L170.89,795.39 L171.38,795.66 L171.87,795.95 L172.36,796.24 L172.85,796.53 L173.34,796.82 L173.83,797.11 L174.32,797.39 L174.81,797.66 L175.29,797.92 L175.78,798.17 L176.27,798.39 L176.76,798.60 L177.25,798.78 L177.74,798.94 L178.23,799.07 L178.72,799.17 L179.21,799.24 L179.70,799.29 L180.19,799.30 L180.68,799.28 L181.16,799.23 L181.65,799.16 L182.14,799.05 L182.63,798.92 L183.12,798.75 L183.61,798.57 L184.10,798.36 L184.59,798.13 L185.08,797.89 L185.57,797.62 L186.06,797.35 L186.55,797.07 L187.04,796.78 L187.52,796.49 L188.01,796.19 L188.50,795.90 L188.99,795.62 L189.48,795.35 L189.97,795.09 L190.46,794.84 L190.95,794.62 L191.44,794.41 L191.93,794.23 L192.42,794.07 L192.91,793.94 L193.39,793.83 L193.88,793.76 L194.37,793.71 L194.86,793.70 L195.35,793.72 L195.84,793.76 L196.33,793.84 L196.82,793.94 L197.31,794.08 L197.80,794.24 L198.29,794.42 L198.78,794.63 L199.26,794.86 L199.75,795.10 L200.24,795.36 L200.73,795.64 L201.22,795.92 L201.71,796.21 L202.20,796.50" fill="none" stroke="#2b2b2b" stroke-width="1.3"/><path d="M248.97,703.50 L248.79,703.99 L248.58,704.49 L248.35,704.98 L248.10,705.48 L247.83,705.97 L247.54,706.47 L247.25,706.96 L246.94,707.46 L246.62,707.95 L246.31,708.45 L245.99,708.94 L245.68,709.44 L245.38,709.93 L245.08,710.43 L244.81,710.92 L244.55,711.41 L244.31,711.91 L244.09,712.40 L243.90,712.90 L243.74,713.39 L243.61,713.89 L243.51,714.38 L243.44,714.88 L243.41,715.37 L243.40,715.87 L243.43,716.36 L243.50,716.86 L243.60,717.35 L243.72,717.85 L243.88,718.34 L244.07,718.84 L244.28,719.33 L244.52,719.82 L244.77,720.32 L245.05,720.81 L245.34,721.31 L245.64,721.80 L245.95,722.30 L246.27,722.79 L246.58,723.29 L246.90,723.78 L247.21,724.28 L247.51,724.77 L247.80,725.27 L248.07,725.76 L248.32,726.26 L248.56,726.75 L248.76,727.24 L248.95,727.74 L249.10,728.23 L249.22,728.73 L249.31,729.22 L249.37,729.72 L249.40,730.21 L249.39,730.71 L249.35,731.20 L249.28,731.70 L249.17,732.19 L249.03,732.69 L248.87,733.18 L248.67,733.68 L248.45,734.17 L248.21,734.66 L247.95,735.16 L247.67,735.65 L247.38,736.15 L247.07,736.64 L246.76,737.14 L246.44,737.63 L246.13,738.13 L245.81,738.62 L245.51,739.12 L245.21,739.61 L244.92,740.11 L244.66,740.60 L244.41,741.10 L244.18,741.59 L243.98,742.09 L243.81,742.58 L243.66,743.07 L243.55,743.57 L243.47,744.06 L243.42,744.56 L243.40,745.05 L243.42,745.55 L243.47,746.04 L243.55,746.54 L243.67,747.03 L243.81,747.53 L243.98,748.02 L244.19,748.52 L244.41,749.01 L244.66,749.51 L244.93,750.00 L245.21,750.49 L245.51,750.99 L245.82,751.48 L246.13,751.98 L246.45,752.47 L246.76,752.97 L247.08,753.46 L247.38,753.96 L247.67,754.45 L247.95,754.95 L248.22,755.44 L248.46,755.94 L248.68,756.43 L248.87,756.93 L249.04,757.42 L249.17,757.91 L249.28,758.41 L249.35,758.90 L249.39,759.40 L249.40,759.89 L249.37,760.39 L249.31,760.88 L249.22,761.38 L249.10,761.87 L248.94,762.37 L248.76,762.86 L248.55,763.36 L248.32,763.85 L248.07,764.35 L247.79,764.84 L247.50,765.34 L247.20,765.83 L246.89,766.32 L246.58,766.82 L246.26,767.31 L245.95,767.81 L245.64,768.30 L245.34,768.80 L245.05,769.29 L244.77,769.79 L244.51,770.28 L244.28,770.78 L244.07,771.27 L243.88,771.77 L243.72,772.26 L243.59,772.76 L243.50,773.25 L243.43,773.74 L243.40,774.24 L243.41,774.73 L243.44,775.23 L243.51,775.72 L243.61,776.22 L243.74,776.71 L243.91,777.21 L244.10,777.70 L244.31,778.20 L244.55,778.69 L244.81,779.19 L245.09,779.68 L245.38,780.18 L245.68,780.67 L245.99,781.16 L246.31,781.66 L246.63,782.15 L246.94,782.65 L247.25,783.14 L247.55,783.64 L247.83,784.13 L248.10,784.63 L248.36,785.12 L248.58,785.62 L248.79,786.11 L248.97,786.61 L249.12,787.10 L249.24,787.60 L249.32,788.09 L249.38,788.59 L249.40,789.08 L249.39,789.57 L249.34,790.07 L249.26,790.56 L249.15,791.06 L249.01,791.55 L248.84,792.05 L248.65,792.54 L248.42,793.04 L248.18,793.53 L247.91,794.03 L247.63,794.52 L247.34,795.02 L247.03,795.51 L246.72,796.01 L246.40,796.50 M243.83,703.50 L244.01,703.99 L244.22,704.49 L244.45,704.98 L244.70,705.48 L244.97,705.97 L245.26,706.47 L245.55,706.96 L245.86,707.46 L246.18,707.95 L246.49,708.45 L246.81,708.94 L247.12,709.44 L247.42,709.93 L247.72,710.43 L247.99,710.92 L248.25,711.41 L248.49,711.91 L248.71,712.40 L248.90,712.90 L249.06,713.39 L249.19,713.89 L249.29,714.38 L249.36,714.88 L249.39,715.37 L249.40,715.87 L249.37,716.36 L249.30,716.86 L249.20,717.35 L249.08,717.85 L248.92,718.34 L248.73,718.84 L248.52,719.33 L248.28,719.82 L248.03,720.32 L247.75,720.81 L247.46,721.31 L247.16,721.80 L246.85,722.30 L246.53,722.79 L246.22,723.29 L245.90,723.78 L245.59,724.28 L245.29,724.77 L245.00,725.27 L244.73,725.76 L244.48,726.26 L244.24,726.75 L244.04,727.24 L243.85,727.74 L243.70,728.23 L243.58,728.73 L243.49,729.22 L243.43,729.72 L243.40,730.21 L243.41,730.71 L243.45,731.20 L243.52,731.70 L243.63,732.19 L243.77,732.69 L243.93,733.18 L244.13,733.68 L244.35,734.17 L244.59,734.66 L244.85,735.16 L245.13,735.65 L245.42,736.15 L245.73,736.64 L246.04,737.14 L246.36,737.63 L246.67,738.13 L246.99,738.62 L247.29,739.12 L247.59,739.61 L247.88,740.11 L248.14,740.60 L248.39,741.10 L248.62,741.59 L248.82,742.09 L248.99,742.58 L249.14,743.07 L249.25,743.57 L249.33,744.06 L249.38,744.56 L249.40,745.05 L249.38,745.55 L249.33,746.04 L249.25,746.54 L249.13,747.03 L248.99,747.53 L248.82,748.02 L248.61,748.52 L248.39,749.01 L248.14,749.51 L247.87,750.00 L247.59,750.49 L247.29,750.99 L246.98,751.48 L246.67,751.98 L246.35,752.47 L246.04,752.97 L245.72,753.46 L245.42,753.96 L245.13,754.45 L244.85,754.95 L244.58,755.44 L244.34,755.94 L244.12,756.43 L243.93,756.93 L243.76,757.42 L243.63,757.91 L243.52,758.41 L243.45,758.90 L243.41,759.40 L243.40,759.89 L243.43,760.39 L243.49,760.88 L243.58,761.38 L243.70,761.87 L243.86,762.37 L244.04,762.86 L244.25,763.36 L244.48,763.85 L244.73,764.35 L245.01,764.84 L245.30,765.34 L245.60,765.83 L245.91,766.32 L246.22,766.82 L246.54,767.31 L246.85,767.81 L247.16,768.30 L247.46,768.80 L247.75,769.29 L248.03,769.79 L248.29,770.28 L248.52,770.78 L248.73,771.27 L248.92,771.77 L249.08,772.26 L249.21,772.76 L249.30,773.25 L249.37,773.74 L249.40,774.24 L249.39,774.73 L249.36,775.23 L249.29,775.72 L249.19,776.22 L249.06,776.71 L248.89,777.21 L248.70,777.70 L248.49,778.20 L248.25,778.69 L247.99,779.19 L247.71,779.68 L247.42,780.18 L247.12,780.67 L246.81,781.16 L246.49,781.66 L246.17,782.15 L245.86,782.65 L245.55,783.14 L245.25,783.64 L244.97,784.13 L244.70,784.63 L244.44,785.12 L244.22,785.62 L244.01,786.11 L243.83,786.61 L243.68,787.10 L243.56,787.60 L243.48,788.09 L243.42,788.59 L243.40,789.08 L243.41,789.57 L243.46,790.07 L243.54,790.56 L243.65,791.06 L243.79,791.55 L243.96,792.05 L244.15,792.54 L244.38,793.04 L244.62,793.53 L244.89,794.03 L245.17,794.52 L245.46,795.02 L245.77,795.51 L246.08,796.01 L246.40,796.50" fill="none" stroke="#2b2b2b" stroke-width="1.3"/><path d="M246.40,796.50 L246.89,796.79 L247.38,797.08 L247.86,797.36 L248.35,797.63 L248.84,797.89 L249.33,798.14 L249.82,798.37 L250.30,798.57 L250.79,798.76 L251.28,798.92 L251.77,799.05 L252.26,799.16 L252.74,799.24 L253.23,799.28 L253.72,799.30 L254.21,799.29 L254.70,799.24 L255.18,799.17 L255.67,799.07 L256.16,798.94 L256.65,798.78 L257.14,798.60 L257.62,798.39 L258.11,798.17 L258.60,797.93 L259.09,797.67 L259.58,797.40 L260.06,797.11 L260.55,796.83 L261.04,796.54 L261.53,796.24 L262.02,795.96 L262.50,795.67 L262.99,795.40 L263.48,795.14 L263.97,794.89 L264.46,794.66 L264.94,794.45 L265.43,794.26 L265.92,794.10 L266.41,793.96 L266.90,793.85 L267.38,793.77 L267.87,793.72 L268.36,793.70 L268.85,793.71 L269.34,793.75 L269.82,793.82 L270.31,793.92 L270.80,794.05 L271.29,794.20 L271.78,794.38 L272.26,794.58 L272.75,794.80 L273.24,795.04 L273.73,795.30 L274.22,795.57 L274.70,795.85 L275.19,796.14 L275.68,796.43 L276.17,796.72 L276.66,797.01 L277.14,797.29 L277.63,797.57 L278.12,797.83 L278.61,798.08 L279.10,798.31 L279.58,798.53 L280.07,798.72 L280.56,798.88 L281.05,799.02 L281.54,799.14 L282.02,799.22 L282.51,799.27 L283.00,799.30 M246.40,796.50 L246.89,796.21 L247.38,795.92 L247.86,795.64 L248.35,795.37 L248.84,795.11 L249.33,794.86 L249.82,794.63 L250.30,794.43 L250.79,794.24 L251.28,794.08 L251.77,793.95 L252.26,793.84 L252.74,793.76 L253.23,793.72 L253.72,793.70 L254.21,793.71 L254.70,793.76 L255.18,793.83 L255.67,793.93 L256.16,794.06 L256.65,794.22 L257.14,794.40 L257.62,794.61 L258.11,794.83 L258.60,795.07 L259.09,795.33 L259.58,795.60 L260.06,795.89 L260.55,796.17 L261.04,796.46 L261.53,796.76 L262.02,797.04 L262.50,797.33 L262.99,797.60 L263.48,797.86 L263.97,798.11 L264.46,798.34 L264.94,798.55 L265.43,798.74 L265.92,798.90 L266.41,799.04 L266.90,799.15 L267.38,799.23 L267.87,799.28 L268.36,799.30 L268.85,799.29 L269.34,799.25 L269.82,799.18 L270.31,799.08 L270.80,798.95 L271.29,798.80 L271.78,798.62 L272.26,798.42 L272.75,798.20 L273.24,797.96 L273.73,797.70 L274.22,797.43 L274.70,797.15 L275.19,796.86 L275.68,796.57 L276.17,796.28 L276.66,795.99 L277.14,795.71 L277.63,795.43 L278.12,795.17 L278.61,794.92 L279.10,794.69 L279.58,794.47 L280.07,794.28 L280.56,794.12 L281.05,793.98 L281.54,793.86 L282.02,793.78 L282.51,793.73 L283.00,793.70" fill="none" stroke="#2b2b2b" stroke-width="1.3"/><text transform="translate(194.40,770.35) rotate(-90) scale(1.0252,1)" font-size="16.60" fill="#111">Cat 5e</text><text transform="translate(253.80,718.74) rotate(90) scale(1.0072,1)" font-size="17.00" fill="#111">Cat 5e</text><circle cx="214.9" cy="747.7" r="2.9" fill="#111"/><circle cx="223.6" cy="747.7" r="2.9" fill="#111"/><circle cx="232.3" cy="747.7" r="2.9" fill="#111"/><use href="#cam" x="87.5" y="757"/><use href="#cam" transform="translate(448.8,0) scale(-1,1)" x="87.5" y="757"/><text transform="translate(83.47,809.10) scale(1.0505,1)" font-size="16.20" font-weight="normal" fill="#111" >IP</text><text transform="translate(62.17,823.90) scale(1.0702,1)" font-size="16.20" font-weight="normal" fill="#111" >камера</text><text transform="translate(350.51,808.80) scale(1.0199,1)" font-size="16.20" font-weight="normal" fill="#111" >IP</text><text transform="translate(327.78,823.60) scale(1.0627,1)" font-size="16.20" font-weight="normal" fill="#111" >камера</text><text transform="translate(204.31,821.60) scale(1.1290,1)" font-size="15.80" font-weight="normal" fill="#111" >До 8</text><text transform="translate(189.52,842.90) scale(1.1096,1)" font-size="15.80" font-weight="normal" fill="#111" >IP камер</text></g>
<g transform="translate(409.3,0)"><path d="M204.77,703.50 L204.59,703.99 L204.38,704.49 L204.15,704.98 L203.90,705.48 L203.63,705.97 L203.34,706.47 L203.05,706.96 L202.74,707.46 L202.42,707.95 L202.11,708.45 L201.79,708.94 L201.48,709.44 L201.18,709.93 L200.88,710.43 L200.61,710.92 L200.35,711.41 L200.11,711.91 L199.89,712.40 L199.70,712.90 L199.54,713.39 L199.41,713.89 L199.31,714.38 L199.24,714.88 L199.21,715.37 L199.20,715.87 L199.23,716.36 L199.30,716.86 L199.40,717.35 L199.52,717.85 L199.68,718.34 L199.87,718.84 L200.08,719.33 L200.32,719.82 L200.57,720.32 L200.85,720.81 L201.14,721.31 L201.44,721.80 L201.75,722.30 L202.07,722.79 L202.38,723.29 L202.70,723.78 L203.01,724.28 L203.31,724.77 L203.60,725.27 L203.87,725.76 L204.12,726.26 L204.36,726.75 L204.56,727.24 L204.75,727.74 L204.90,728.23 L205.02,728.73 L205.11,729.22 L205.17,729.72 L205.20,730.21 L205.19,730.71 L205.15,731.20 L205.08,731.70 L204.97,732.19 L204.83,732.69 L204.67,733.18 L204.47,733.68 L204.25,734.17 L204.01,734.66 L203.75,735.16 L203.47,735.65 L203.18,736.15 L202.87,736.64 L202.56,737.14 L202.24,737.63 L201.93,738.13 L201.61,738.62 L201.31,739.12 L201.01,739.61 L200.72,740.11 L200.46,740.60 L200.21,741.10 L199.98,741.59 L199.78,742.09 L199.61,742.58 L199.46,743.07 L199.35,743.57 L199.27,744.06 L199.22,744.56 L199.20,745.05 L199.22,745.55 L199.27,746.04 L199.35,746.54 L199.47,747.03 L199.61,747.53 L199.78,748.02 L199.99,748.52 L200.21,749.01 L200.46,749.51 L200.73,750.00 L201.01,750.49 L201.31,750.99 L201.62,751.48 L201.93,751.98 L202.25,752.47 L202.56,752.97 L202.88,753.46 L203.18,753.96 L203.47,754.45 L203.75,754.95 L204.02,755.44 L204.26,755.94 L204.48,756.43 L204.67,756.93 L204.84,757.42 L204.97,757.91 L205.08,758.41 L205.15,758.90 L205.19,759.40 L205.20,759.89 L205.17,760.39 L205.11,760.88 L205.02,761.38 L204.90,761.87 L204.74,762.37 L204.56,762.86 L204.35,763.36 L204.12,763.85 L203.87,764.35 L203.59,764.84 L203.30,765.34 L203.00,765.83 L202.69,766.32 L202.38,766.82 L202.06,767.31 L201.75,767.81 L201.44,768.30 L201.14,768.80 L200.85,769.29 L200.57,769.79 L200.31,770.28 L200.08,770.78 L199.87,771.27 L199.68,771.77 L199.52,772.26 L199.39,772.76 L199.30,773.25 L199.23,773.74 L199.20,774.24 L199.21,774.73 L199.24,775.23 L199.31,775.72 L199.41,776.22 L199.54,776.71 L199.71,777.21 L199.90,777.70 L200.11,778.20 L200.35,778.69 L200.61,779.19 L200.89,779.68 L201.18,780.18 L201.48,780.67 L201.79,781.16 L202.11,781.66 L202.43,782.15 L202.74,782.65 L203.05,783.14 L203.35,783.64 L203.63,784.13 L203.90,784.63 L204.16,785.12 L204.38,785.62 L204.59,786.11 L204.77,786.61 L204.92,787.10 L205.04,787.60 L205.12,788.09 L205.18,788.59 L205.20,789.08 L205.19,789.57 L205.14,790.07 L205.06,790.56 L204.95,791.06 L204.81,791.55 L204.64,792.05 L204.45,792.54 L204.22,793.04 L203.98,793.53 L203.71,794.03 L203.43,794.52 L203.14,795.02 L202.83,795.51 L202.52,796.01 L202.20,796.50 M199.63,703.50 L199.81,703.99 L200.02,704.49 L200.25,704.98 L200.50,705.48 L200.77,705.97 L201.06,706.47 L201.35,706.96 L201.66,707.46 L201.98,707.95 L202.29,708.45 L202.61,708.94 L202.92,709.44 L203.22,709.93 L203.52,710.43 L203.79,710.92 L204.05,711.41 L204.29,711.91 L204.51,712.40 L204.70,712.90 L204.86,713.39 L204.99,713.89 L205.09,714.38 L205.16,714.88 L205.19,715.37 L205.20,715.87 L205.17,716.36 L205.10,716.86 L205.00,717.35 L204.88,717.85 L204.72,718.34 L204.53,718.84 L204.32,719.33 L204.08,719.82 L203.83,720.32 L203.55,720.81 L203.26,721.31 L202.96,721.80 L202.65,722.30 L202.33,722.79 L202.02,723.29 L201.70,723.78 L201.39,724.28 L201.09,724.77 L200.80,725.27 L200.53,725.76 L200.28,726.26 L200.04,726.75 L199.84,727.24 L199.65,727.74 L199.50,728.23 L199.38,728.73 L199.29,729.22 L199.23,729.72 L199.20,730.21 L199.21,730.71 L199.25,731.20 L199.32,731.70 L199.43,732.19 L199.57,732.69 L199.73,733.18 L199.93,733.68 L200.15,734.17 L200.39,734.66 L200.65,735.16 L200.93,735.65 L201.22,736.15 L201.53,736.64 L201.84,737.14 L202.16,737.63 L202.47,738.13 L202.79,738.62 L203.09,739.12 L203.39,739.61 L203.68,740.11 L203.94,740.60 L204.19,741.10 L204.42,741.59 L204.62,742.09 L204.79,742.58 L204.94,743.07 L205.05,743.57 L205.13,744.06 L205.18,744.56 L205.20,745.05 L205.18,745.55 L205.13,746.04 L205.05,746.54 L204.93,747.03 L204.79,747.53 L204.62,748.02 L204.41,748.52 L204.19,749.01 L203.94,749.51 L203.67,750.00 L203.39,750.49 L203.09,750.99 L202.78,751.48 L202.47,751.98 L202.15,752.47 L201.84,752.97 L201.52,753.46 L201.22,753.96 L200.93,754.45 L200.65,754.95 L200.38,755.44 L200.14,755.94 L199.92,756.43 L199.73,756.93 L199.56,757.42 L199.43,757.91 L199.32,758.41 L199.25,758.90 L199.21,759.40 L199.20,759.89 L199.23,760.39 L199.29,760.88 L199.38,761.38 L199.50,761.87 L199.66,762.37 L199.84,762.86 L200.05,763.36 L200.28,763.85 L200.53,764.35 L200.81,764.84 L201.10,765.34 L201.40,765.83 L201.71,766.32 L202.02,766.82 L202.34,767.31 L202.65,767.81 L202.96,768.30 L203.26,768.80 L203.55,769.29 L203.83,769.79 L204.09,770.28 L204.32,770.78 L204.53,771.27 L204.72,771.77 L204.88,772.26 L205.01,772.76 L205.10,773.25 L205.17,773.74 L205.20,774.24 L205.19,774.73 L205.16,775.23 L205.09,775.72 L204.99,776.22 L204.86,776.71 L204.69,777.21 L204.50,777.70 L204.29,778.20 L204.05,778.69 L203.79,779.19 L203.51,779.68 L203.22,780.18 L202.92,780.67 L202.61,781.16 L202.29,781.66 L201.97,782.15 L201.66,782.65 L201.35,783.14 L201.05,783.64 L200.77,784.13 L200.50,784.63 L200.24,785.12 L200.02,785.62 L199.81,786.11 L199.63,786.61 L199.48,787.10 L199.36,787.60 L199.28,788.09 L199.22,788.59 L199.20,789.08 L199.21,789.57 L199.26,790.07 L199.34,790.56 L199.45,791.06 L199.59,791.55 L199.76,792.05 L199.95,792.54 L200.18,793.04 L200.42,793.53 L200.69,794.03 L200.97,794.52 L201.26,795.02 L201.57,795.51 L201.88,796.01 L202.20,796.50" fill="none" stroke="#2b2b2b" stroke-width="1.3"/><path d="M166.00,799.28 L166.49,799.23 L166.98,799.15 L167.47,799.04 L167.96,798.91 L168.45,798.75 L168.94,798.56 L169.42,798.35 L169.91,798.12 L170.40,797.87 L170.89,797.61 L171.38,797.34 L171.87,797.05 L172.36,796.76 L172.85,796.47 L173.34,796.18 L173.83,795.89 L174.32,795.61 L174.81,795.34 L175.29,795.08 L175.78,794.83 L176.27,794.61 L176.76,794.40 L177.25,794.22 L177.74,794.06 L178.23,793.93 L178.72,793.83 L179.21,793.76 L179.70,793.71 L180.19,793.70 L180.68,793.72 L181.16,793.77 L181.65,793.84 L182.14,793.95 L182.63,794.08 L183.12,794.25 L183.61,794.43 L184.10,794.64 L184.59,794.87 L185.08,795.11 L185.57,795.38 L186.06,795.65 L186.55,795.93 L187.04,796.22 L187.52,796.51 L188.01,796.81 L188.50,797.10 L188.99,797.38 L189.48,797.65 L189.97,797.91 L190.46,798.16 L190.95,798.38 L191.44,798.59 L191.93,798.77 L192.42,798.93 L192.91,799.06 L193.39,799.17 L193.88,799.24 L194.37,799.29 L194.86,799.30 L195.35,799.28 L195.84,799.24 L196.33,799.16 L196.82,799.06 L197.31,798.92 L197.80,798.76 L198.29,798.58 L198.78,798.37 L199.26,798.14 L199.75,797.90 L200.24,797.64 L200.73,797.36 L201.22,797.08 L201.71,796.79 L202.20,796.50 M166.00,793.72 L166.49,793.77 L166.98,793.85 L167.47,793.96 L167.96,794.09 L168.45,794.25 L168.94,794.44 L169.42,794.65 L169.91,794.88 L170.40,795.13 L170.89,795.39 L171.38,795.66 L171.87,795.95 L172.36,796.24 L172.85,796.53 L173.34,796.82 L173.83,797.11 L174.32,797.39 L174.81,797.66 L175.29,797.92 L175.78,798.17 L176.27,798.39 L176.76,798.60 L177.25,798.78 L177.74,798.94 L178.23,799.07 L178.72,799.17 L179.21,799.24 L179.70,799.29 L180.19,799.30 L180.68,799.28 L181.16,799.23 L181.65,799.16 L182.14,799.05 L182.63,798.92 L183.12,798.75 L183.61,798.57 L184.10,798.36 L184.59,798.13 L185.08,797.89 L185.57,797.62 L186.06,797.35 L186.55,797.07 L187.04,796.78 L187.52,796.49 L188.01,796.19 L188.50,795.90 L188.99,795.62 L189.48,795.35 L189.97,795.09 L190.46,794.84 L190.95,794.62 L191.44,794.41 L191.93,794.23 L192.42,794.07 L192.91,793.94 L193.39,793.83 L193.88,793.76 L194.37,793.71 L194.86,793.70 L195.35,793.72 L195.84,793.76 L196.33,793.84 L196.82,793.94 L197.31,794.08 L197.80,794.24 L198.29,794.42 L198.78,794.63 L199.26,794.86 L199.75,795.10 L200.24,795.36 L200.73,795.64 L201.22,795.92 L201.71,796.21 L202.20,796.50" fill="none" stroke="#2b2b2b" stroke-width="1.3"/><path d="M248.97,703.50 L248.79,703.99 L248.58,704.49 L248.35,704.98 L248.10,705.48 L247.83,705.97 L247.54,706.47 L247.25,706.96 L246.94,707.46 L246.62,707.95 L246.31,708.45 L245.99,708.94 L245.68,709.44 L245.38,709.93 L245.08,710.43 L244.81,710.92 L244.55,711.41 L244.31,711.91 L244.09,712.40 L243.90,712.90 L243.74,713.39 L243.61,713.89 L243.51,714.38 L243.44,714.88 L243.41,715.37 L243.40,715.87 L243.43,716.36 L243.50,716.86 L243.60,717.35 L243.72,717.85 L243.88,718.34 L244.07,718.84 L244.28,719.33 L244.52,719.82 L244.77,720.32 L245.05,720.81 L245.34,721.31 L245.64,721.80 L245.95,722.30 L246.27,722.79 L246.58,723.29 L246.90,723.78 L247.21,724.28 L247.51,724.77 L247.80,725.27 L248.07,725.76 L248.32,726.26 L248.56,726.75 L248.76,727.24 L248.95,727.74 L249.10,728.23 L249.22,728.73 L249.31,729.22 L249.37,729.72 L249.40,730.21 L249.39,730.71 L249.35,731.20 L249.28,731.70 L249.17,732.19 L249.03,732.69 L248.87,733.18 L248.67,733.68 L248.45,734.17 L248.21,734.66 L247.95,735.16 L247.67,735.65 L247.38,736.15 L247.07,736.64 L246.76,737.14 L246.44,737.63 L246.13,738.13 L245.81,738.62 L245.51,739.12 L245.21,739.61 L244.92,740.11 L244.66,740.60 L244.41,741.10 L244.18,741.59 L243.98,742.09 L243.81,742.58 L243.66,743.07 L243.55,743.57 L243.47,744.06 L243.42,744.56 L243.40,745.05 L243.42,745.55 L243.47,746.04 L243.55,746.54 L243.67,747.03 L243.81,747.53 L243.98,748.02 L244.19,748.52 L244.41,749.01 L244.66,749.51 L244.93,750.00 L245.21,750.49 L245.51,750.99 L245.82,751.48 L246.13,751.98 L246.45,752.47 L246.76,752.97 L247.08,753.46 L247.38,753.96 L247.67,754.45 L247.95,754.95 L248.22,755.44 L248.46,755.94 L248.68,756.43 L248.87,756.93 L249.04,757.42 L249.17,757.91 L249.28,758.41 L249.35,758.90 L249.39,759.40 L249.40,759.89 L249.37,760.39 L249.31,760.88 L249.22,761.38 L249.10,761.87 L248.94,762.37 L248.76,762.86 L248.55,763.36 L248.32,763.85 L248.07,764.35 L247.79,764.84 L247.50,765.34 L247.20,765.83 L246.89,766.32 L246.58,766.82 L246.26,767.31 L245.95,767.81 L245.64,768.30 L245.34,768.80 L245.05,769.29 L244.77,769.79 L244.51,770.28 L244.28,770.78 L244.07,771.27 L243.88,771.77 L243.72,772.26 L243.59,772.76 L243.50,773.25 L243.43,773.74 L243.40,774.24 L243.41,774.73 L243.44,775.23 L243.51,775.72 L243.61,776.22 L243.74,776.71 L243.91,777.21 L244.10,777.70 L244.31,778.20 L244.55,778.69 L244.81,779.19 L245.09,779.68 L245.38,780.18 L245.68,780.67 L245.99,781.16 L246.31,781.66 L246.63,782.15 L246.94,782.65 L247.25,783.14 L247.55,783.64 L247.83,784.13 L248.10,784.63 L248.36,785.12 L248.58,785.62 L248.79,786.11 L248.97,786.61 L249.12,787.10 L249.24,787.60 L249.32,788.09 L249.38,788.59 L249.40,789.08 L249.39,789.57 L249.34,790.07 L249.26,790.56 L249.15,791.06 L249.01,791.55 L248.84,792.05 L248.65,792.54 L248.42,793.04 L248.18,793.53 L247.91,794.03 L247.63,794.52 L247.34,795.02 L247.03,795.51 L246.72,796.01 L246.40,796.50 M243.83,703.50 L244.01,703.99 L244.22,704.49 L244.45,704.98 L244.70,705.48 L244.97,705.97 L245.26,706.47 L245.55,706.96 L245.86,707.46 L246.18,707.95 L246.49,708.45 L246.81,708.94 L247.12,709.44 L247.42,709.93 L247.72,710.43 L247.99,710.92 L248.25,711.41 L248.49,711.91 L248.71,712.40 L248.90,712.90 L249.06,713.39 L249.19,713.89 L249.29,714.38 L249.36,714.88 L249.39,715.37 L249.40,715.87 L249.37,716.36 L249.30,716.86 L249.20,717.35 L249.08,717.85 L248.92,718.34 L248.73,718.84 L248.52,719.33 L248.28,719.82 L248.03,720.32 L247.75,720.81 L247.46,721.31 L247.16,721.80 L246.85,722.30 L246.53,722.79 L246.22,723.29 L245.90,723.78 L245.59,724.28 L245.29,724.77 L245.00,725.27 L244.73,725.76 L244.48,726.26 L244.24,726.75 L244.04,727.24 L243.85,727.74 L243.70,728.23 L243.58,728.73 L243.49,729.22 L243.43,729.72 L243.40,730.21 L243.41,730.71 L243.45,731.20 L243.52,731.70 L243.63,732.19 L243.77,732.69 L243.93,733.18 L244.13,733.68 L244.35,734.17 L244.59,734.66 L244.85,735.16 L245.13,735.65 L245.42,736.15 L245.73,736.64 L246.04,737.14 L246.36,737.63 L246.67,738.13 L246.99,738.62 L247.29,739.12 L247.59,739.61 L247.88,740.11 L248.14,740.60 L248.39,741.10 L248.62,741.59 L248.82,742.09 L248.99,742.58 L249.14,743.07 L249.25,743.57 L249.33,744.06 L249.38,744.56 L249.40,745.05 L249.38,745.55 L249.33,746.04 L249.25,746.54 L249.13,747.03 L248.99,747.53 L248.82,748.02 L248.61,748.52 L248.39,749.01 L248.14,749.51 L247.87,750.00 L247.59,750.49 L247.29,750.99 L246.98,751.48 L246.67,751.98 L246.35,752.47 L246.04,752.97 L245.72,753.46 L245.42,753.96 L245.13,754.45 L244.85,754.95 L244.58,755.44 L244.34,755.94 L244.12,756.43 L243.93,756.93 L243.76,757.42 L243.63,757.91 L243.52,758.41 L243.45,758.90 L243.41,759.40 L243.40,759.89 L243.43,760.39 L243.49,760.88 L243.58,761.38 L243.70,761.87 L243.86,762.37 L244.04,762.86 L244.25,763.36 L244.48,763.85 L244.73,764.35 L245.01,764.84 L245.30,765.34 L245.60,765.83 L245.91,766.32 L246.22,766.82 L246.54,767.31 L246.85,767.81 L247.16,768.30 L247.46,768.80 L247.75,769.29 L248.03,769.79 L248.29,770.28 L248.52,770.78 L248.73,771.27 L248.92,771.77 L249.08,772.26 L249.21,772.76 L249.30,773.25 L249.37,773.74 L249.40,774.24 L249.39,774.73 L249.36,775.23 L249.29,775.72 L249.19,776.22 L249.06,776.71 L248.89,777.21 L248.70,777.70 L248.49,778.20 L248.25,778.69 L247.99,779.19 L247.71,779.68 L247.42,780.18 L247.12,780.67 L246.81,781.16 L246.49,781.66 L246.17,782.15 L245.86,782.65 L245.55,783.14 L245.25,783.64 L244.97,784.13 L244.70,784.63 L244.44,785.12 L244.22,785.62 L244.01,786.11 L243.83,786.61 L243.68,787.10 L243.56,787.60 L243.48,788.09 L243.42,788.59 L243.40,789.08 L243.41,789.57 L243.46,790.07 L243.54,790.56 L243.65,791.06 L243.79,791.55 L243.96,792.05 L244.15,792.54 L244.38,793.04 L244.62,793.53 L244.89,794.03 L245.17,794.52 L245.46,795.02 L245.77,795.51 L246.08,796.01 L246.40,796.50" fill="none" stroke="#2b2b2b" stroke-width="1.3"/><path d="M246.40,796.50 L246.89,796.79 L247.38,797.08 L247.86,797.36 L248.35,797.63 L248.84,797.89 L249.33,798.14 L249.82,798.37 L250.30,798.57 L250.79,798.76 L251.28,798.92 L251.77,799.05 L252.26,799.16 L252.74,799.24 L253.23,799.28 L253.72,799.30 L254.21,799.29 L254.70,799.24 L255.18,799.17 L255.67,799.07 L256.16,798.94 L256.65,798.78 L257.14,798.60 L257.62,798.39 L258.11,798.17 L258.60,797.93 L259.09,797.67 L259.58,797.40 L260.06,797.11 L260.55,796.83 L261.04,796.54 L261.53,796.24 L262.02,795.96 L262.50,795.67 L262.99,795.40 L263.48,795.14 L263.97,794.89 L264.46,794.66 L264.94,794.45 L265.43,794.26 L265.92,794.10 L266.41,793.96 L266.90,793.85 L267.38,793.77 L267.87,793.72 L268.36,793.70 L268.85,793.71 L269.34,793.75 L269.82,793.82 L270.31,793.92 L270.80,794.05 L271.29,794.20 L271.78,794.38 L272.26,794.58 L272.75,794.80 L273.24,795.04 L273.73,795.30 L274.22,795.57 L274.70,795.85 L275.19,796.14 L275.68,796.43 L276.17,796.72 L276.66,797.01 L277.14,797.29 L277.63,797.57 L278.12,797.83 L278.61,798.08 L279.10,798.31 L279.58,798.53 L280.07,798.72 L280.56,798.88 L281.05,799.02 L281.54,799.14 L282.02,799.22 L282.51,799.27 L283.00,799.30 M246.40,796.50 L246.89,796.21 L247.38,795.92 L247.86,795.64 L248.35,795.37 L248.84,795.11 L249.33,794.86 L249.82,794.63 L250.30,794.43 L250.79,794.24 L251.28,794.08 L251.77,793.95 L252.26,793.84 L252.74,793.76 L253.23,793.72 L253.72,793.70 L254.21,793.71 L254.70,793.76 L255.18,793.83 L255.67,793.93 L256.16,794.06 L256.65,794.22 L257.14,794.40 L257.62,794.61 L258.11,794.83 L258.60,795.07 L259.09,795.33 L259.58,795.60 L260.06,795.89 L260.55,796.17 L261.04,796.46 L261.53,796.76 L262.02,797.04 L262.50,797.33 L262.99,797.60 L263.48,797.86 L263.97,798.11 L264.46,798.34 L264.94,798.55 L265.43,798.74 L265.92,798.90 L266.41,799.04 L266.90,799.15 L267.38,799.23 L267.87,799.28 L268.36,799.30 L268.85,799.29 L269.34,799.25 L269.82,799.18 L270.31,799.08 L270.80,798.95 L271.29,798.80 L271.78,798.62 L272.26,798.42 L272.75,798.20 L273.24,797.96 L273.73,797.70 L274.22,797.43 L274.70,797.15 L275.19,796.86 L275.68,796.57 L276.17,796.28 L276.66,795.99 L277.14,795.71 L277.63,795.43 L278.12,795.17 L278.61,794.92 L279.10,794.69 L279.58,794.47 L280.07,794.28 L280.56,794.12 L281.05,793.98 L281.54,793.86 L282.02,793.78 L282.51,793.73 L283.00,793.70" fill="none" stroke="#2b2b2b" stroke-width="1.3"/><text transform="translate(194.40,770.35) rotate(-90) scale(1.0252,1)" font-size="16.60" fill="#111">Cat 5e</text><text transform="translate(253.80,718.74) rotate(90) scale(1.0072,1)" font-size="17.00" fill="#111">Cat 5e</text><circle cx="214.9" cy="747.7" r="2.9" fill="#111"/><circle cx="223.6" cy="747.7" r="2.9" fill="#111"/><circle cx="232.3" cy="747.7" r="2.9" fill="#111"/><use href="#cam" x="87.5" y="757"/><use href="#cam" transform="translate(448.8,0) scale(-1,1)" x="87.5" y="757"/><text transform="translate(83.47,809.10) scale(1.0505,1)" font-size="16.20" font-weight="normal" fill="#111" >IP</text><text transform="translate(62.17,823.90) scale(1.0702,1)" font-size="16.20" font-weight="normal" fill="#111" >камера</text><text transform="translate(350.51,808.80) scale(1.0199,1)" font-size="16.20" font-weight="normal" fill="#111" >IP</text><text transform="translate(327.78,823.60) scale(1.0627,1)" font-size="16.20" font-weight="normal" fill="#111" >камера</text><text transform="translate(204.31,821.60) scale(1.1290,1)" font-size="15.80" font-weight="normal" fill="#111" >До 8</text><text transform="translate(189.52,842.90) scale(1.1096,1)" font-size="15.80" font-weight="normal" fill="#111" >IP камер</text></g>
<text transform="translate(358.15,890) scale(1.08,1)" font-size="17.4" letter-spacing="0.85" fill="#505050">схема применения</text>
</svg></body></html>
